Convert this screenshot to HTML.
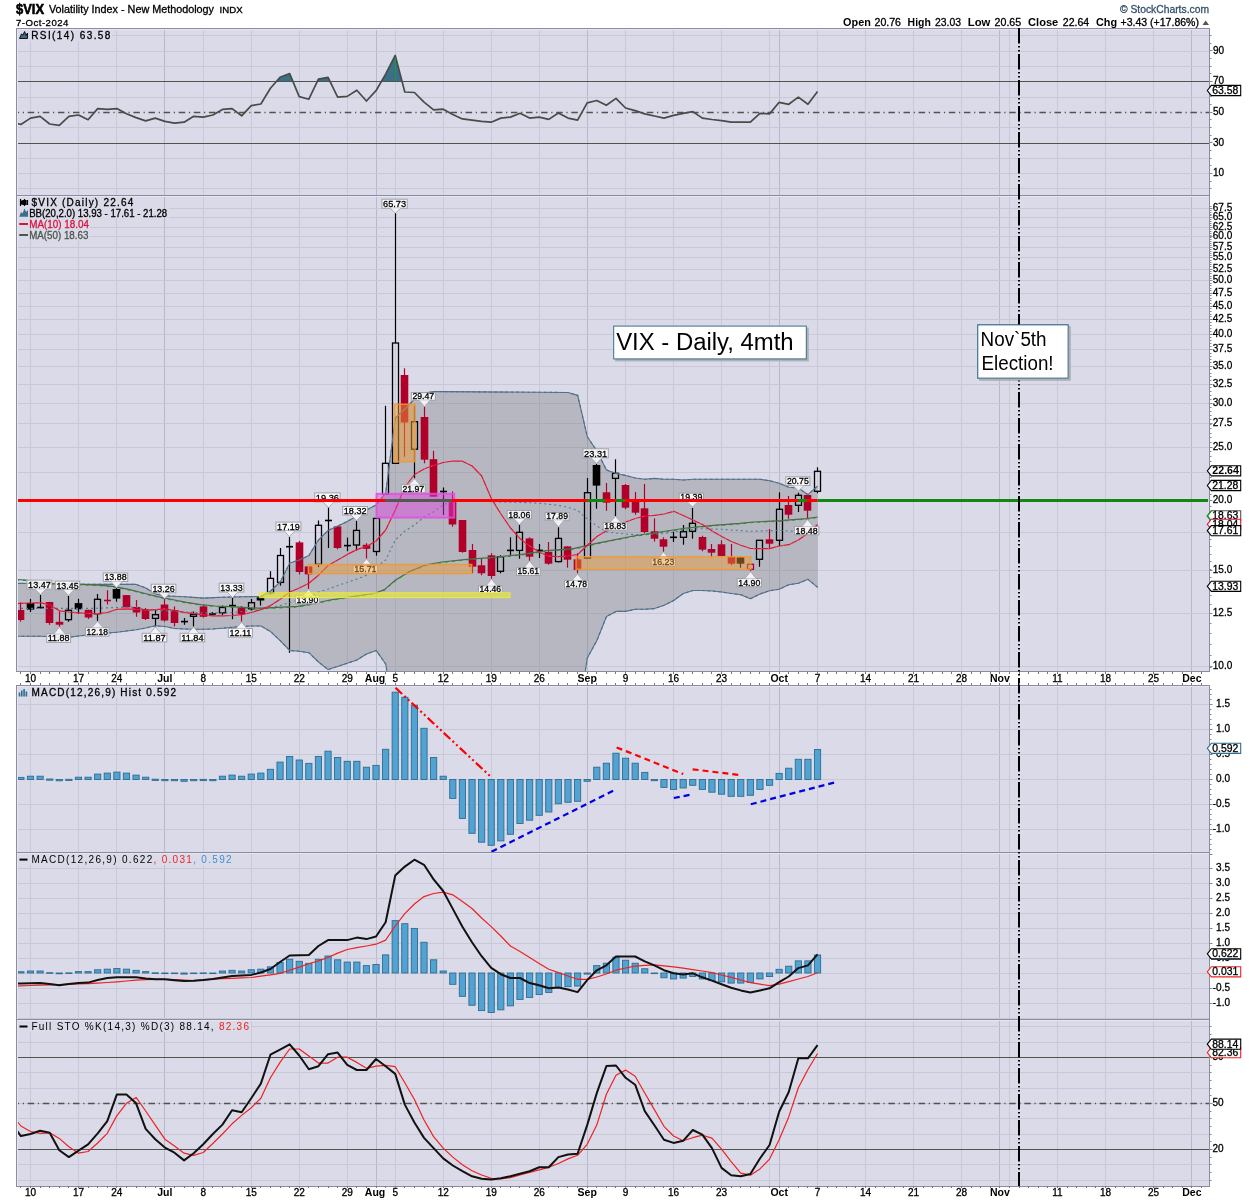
<!DOCTYPE html><html><head><meta charset="utf-8"><title>$VIX</title><style>html,body{margin:0;padding:0;background:#fff;width:1250px;height:1200px;overflow:hidden}svg{display:block;will-change:transform}text{font-family:"Liberation Sans", sans-serif}</style></head><body>
<svg width="1250" height="1200" viewBox="0 0 1250 1200">
<rect width="1250" height="1200" fill="#fff"/>
<defs><clipPath id="cp"><rect x="17" y="196" width="1191" height="475"/></clipPath><clipPath id="ch"><rect x="17" y="686" width="1191" height="166"/></clipPath><clipPath id="cm"><rect x="17" y="853" width="1191" height="166"/></clipPath><clipPath id="cs"><rect x="17" y="1020" width="1191" height="166"/></clipPath><clipPath id="cr"><rect x="17" y="29" width="1191" height="166"/></clipPath></defs>
<text x="16" y="14.2" font-size="14" fill="#000" font-weight="bold" textLength="28" lengthAdjust="spacingAndGlyphs" stroke="#000" stroke-width="0.6">$VIX</text>
<text x="49" y="13" font-size="10.5" fill="#000" textLength="165" lengthAdjust="spacingAndGlyphs" stroke="#000" stroke-width="0.3">Volatility Index - New Methodology</text>
<text x="219.6" y="13" font-size="8.5" fill="#000" textLength="23" lengthAdjust="spacingAndGlyphs" stroke="#000" stroke-width="0.3">INDX</text>
<text x="16" y="26" font-size="9.6" fill="#000" textLength="52.4" lengthAdjust="spacing" stroke="#000" stroke-width="0.3">7-Oct-2024</text>
<text x="1120" y="13.1" font-size="10.5" fill="#34506a" textLength="89" lengthAdjust="spacingAndGlyphs" stroke="#34506a" stroke-width="0.3">© StockCharts.com</text>
<text x="843.1" y="26" font-size="10.5" fill="#000" font-weight="bold" textLength="27.7" lengthAdjust="spacingAndGlyphs">Open</text>
<text x="874.5" y="26" font-size="10" fill="#000" textLength="26.5" lengthAdjust="spacingAndGlyphs" stroke="#000" stroke-width="0.3">20.76</text>
<text x="907.6" y="26" font-size="10.5" fill="#000" font-weight="bold" textLength="23.2" lengthAdjust="spacingAndGlyphs">High</text>
<text x="935" y="26" font-size="10" fill="#000" textLength="26" lengthAdjust="spacingAndGlyphs" stroke="#000" stroke-width="0.3">23.03</text>
<text x="967.8" y="26" font-size="10.5" fill="#000" font-weight="bold" textLength="22.6" lengthAdjust="spacingAndGlyphs">Low</text>
<text x="994.6" y="26" font-size="10" fill="#000" textLength="26.6" lengthAdjust="spacingAndGlyphs" stroke="#000" stroke-width="0.3">20.65</text>
<text x="1028" y="26" font-size="10.5" fill="#000" font-weight="bold" textLength="30.3" lengthAdjust="spacingAndGlyphs">Close</text>
<text x="1062.8" y="26" font-size="10" fill="#000" textLength="26.4" lengthAdjust="spacingAndGlyphs" stroke="#000" stroke-width="0.3">22.64</text>
<text x="1096" y="26" font-size="10.5" fill="#000" font-weight="bold" textLength="21.1" lengthAdjust="spacingAndGlyphs">Chg</text>
<text x="1120.5" y="26" font-size="10" fill="#000" textLength="78.5" lengthAdjust="spacingAndGlyphs" stroke="#000" stroke-width="0.3">+3.43 (+17.86%)</text>
<path d="M1202.5,25 L1205.7,20.5 L1209,25 Z" fill="#555"/>
<rect x="16" y="28" width="1193" height="167" fill="#dadae8"/>
<line x1="30.5" y1="28" x2="30.5" y2="195" stroke="#c9c9da" stroke-width="1"/>
<line x1="78.5" y1="28" x2="78.5" y2="195" stroke="#c9c9da" stroke-width="1"/>
<line x1="116.5" y1="28" x2="116.5" y2="195" stroke="#c9c9da" stroke-width="1"/>
<line x1="164.5" y1="28" x2="164.5" y2="195" stroke="#b9b9cb" stroke-width="1"/>
<line x1="203.5" y1="28" x2="203.5" y2="195" stroke="#c9c9da" stroke-width="1"/>
<line x1="251.5" y1="28" x2="251.5" y2="195" stroke="#c9c9da" stroke-width="1"/>
<line x1="299.5" y1="28" x2="299.5" y2="195" stroke="#c9c9da" stroke-width="1"/>
<line x1="347.5" y1="28" x2="347.5" y2="195" stroke="#c9c9da" stroke-width="1"/>
<line x1="376.5" y1="28" x2="376.5" y2="195" stroke="#b9b9cb" stroke-width="1"/>
<line x1="395.5" y1="28" x2="395.5" y2="195" stroke="#c9c9da" stroke-width="1"/>
<line x1="443.5" y1="28" x2="443.5" y2="195" stroke="#c9c9da" stroke-width="1"/>
<line x1="491.5" y1="28" x2="491.5" y2="195" stroke="#c9c9da" stroke-width="1"/>
<line x1="539.5" y1="28" x2="539.5" y2="195" stroke="#c9c9da" stroke-width="1"/>
<line x1="587.5" y1="28" x2="587.5" y2="195" stroke="#b9b9cb" stroke-width="1"/>
<line x1="625.5" y1="28" x2="625.5" y2="195" stroke="#c9c9da" stroke-width="1"/>
<line x1="673.5" y1="28" x2="673.5" y2="195" stroke="#c9c9da" stroke-width="1"/>
<line x1="721.5" y1="28" x2="721.5" y2="195" stroke="#c9c9da" stroke-width="1"/>
<line x1="769.5" y1="28" x2="769.5" y2="195" stroke="#c9c9da" stroke-width="1"/>
<line x1="779.5" y1="28" x2="779.5" y2="195" stroke="#b9b9cb" stroke-width="1"/>
<line x1="817.5" y1="28" x2="817.5" y2="195" stroke="#c9c9da" stroke-width="1"/>
<line x1="865.5" y1="28" x2="865.5" y2="195" stroke="#c9c9da" stroke-width="1"/>
<line x1="913.5" y1="28" x2="913.5" y2="195" stroke="#c9c9da" stroke-width="1"/>
<line x1="961.5" y1="28" x2="961.5" y2="195" stroke="#c9c9da" stroke-width="1"/>
<line x1="999.5" y1="28" x2="999.5" y2="195" stroke="#b9b9cb" stroke-width="1"/>
<line x1="1009.5" y1="28" x2="1009.5" y2="195" stroke="#c9c9da" stroke-width="1"/>
<line x1="1057.5" y1="28" x2="1057.5" y2="195" stroke="#c9c9da" stroke-width="1"/>
<line x1="1105.5" y1="28" x2="1105.5" y2="195" stroke="#c9c9da" stroke-width="1"/>
<line x1="1153.5" y1="28" x2="1153.5" y2="195" stroke="#c9c9da" stroke-width="1"/>
<line x1="1191.5" y1="28" x2="1191.5" y2="195" stroke="#b9b9cb" stroke-width="1"/>
<line x1="16" y1="35.5" x2="1209" y2="35.5" stroke="#c8c8d6" stroke-width="1"/>
<line x1="16" y1="51.5" x2="1209" y2="51.5" stroke="#c8c8d6" stroke-width="1"/>
<line x1="16" y1="66.5" x2="1209" y2="66.5" stroke="#c8c8d6" stroke-width="1"/>
<line x1="16" y1="97.5" x2="1209" y2="97.5" stroke="#c8c8d6" stroke-width="1"/>
<line x1="16" y1="127.5" x2="1209" y2="127.5" stroke="#c8c8d6" stroke-width="1"/>
<line x1="16" y1="158.5" x2="1209" y2="158.5" stroke="#c8c8d6" stroke-width="1"/>
<line x1="16" y1="173.5" x2="1209" y2="173.5" stroke="#c8c8d6" stroke-width="1"/>
<line x1="16" y1="188.5" x2="1209" y2="188.5" stroke="#c8c8d6" stroke-width="1"/>
<clipPath id="c70"><rect x="17" y="29" width="1191" height="52.56"/></clipPath>
<path d="M16.5,81.56 L16.5,123.2 L20.9,124.5 L30.5,118.1 L40.1,116.3 L49.7,124 L59.29,125.3 L68.89,116.3 L78.49,115 L88.09,119.7 L97.69,108.6 L107.28,109.4 L116.88,108.6 L126.48,113.8 L136.08,117.6 L145.68,120.9 L155.27,118.1 L164.87,121.4 L174.47,123.2 L184.07,122.2 L193.67,116.3 L203.26,117.1 L212.86,115 L222.46,109.4 L232.06,108.6 L241.66,115.8 L251.25,105.6 L260.85,104 L270.45,88.2 L280.05,77.2 L289.65,73.6 L299.24,96.6 L308.84,99.2 L318.44,79.2 L328.04,77.4 L337.64,97.1 L347.23,96.4 L356.83,90.2 L366.43,101 L376.03,90.7 L385.63,74.1 L395.22,55.4 L404.82,92 L414.42,92.5 L424.02,102.2 L433.62,109.9 L443.21,109.2 L452.81,114.5 L462.41,118.9 L472.01,120.2 L481.61,121.4 L491.2,122.2 L500.8,118.1 L510.4,117.1 L520,113.3 L529.6,118.1 L539.19,117.1 L548.79,119.4 L558.39,113 L567.99,118.1 L577.59,120.2 L587.18,102.8 L596.78,100.5 L606.38,105.3 L615.98,98.4 L625.58,108 L635.17,110.6 L644.77,113.9 L654.37,116 L663.97,118.1 L673.57,115.4 L683.16,113.3 L692.76,111.6 L702.36,118.1 L711.96,119.5 L721.56,120.6 L731.15,122.2 L740.75,122.2 L750.35,122.2 L759.95,113.3 L769.55,113.9 L779.14,102.3 L788.74,104.3 L798.34,97.1 L807.94,104.3 L817.54,91.4 L817.54,81.56 Z" fill="#3c6e88" clip-path="url(#c70)"/>
<line x1="16" y1="81.5" x2="1209" y2="81.5" stroke="#4e544e" stroke-width="1.2"/>
<line x1="16" y1="143.5" x2="1209" y2="143.5" stroke="#4e544e" stroke-width="1.2"/>
<line x1="17" y1="112.5" x2="1209" y2="112.5" stroke="#4e544e" stroke-width="1.5" stroke-dasharray="6.5,3.7,1.2,3.7" stroke-dashoffset="4.4"/>
<polyline points="16.5,123.2 20.9,124.5 30.5,118.1 40.1,116.3 49.7,124 59.29,125.3 68.89,116.3 78.49,115 88.09,119.7 97.69,108.6 107.28,109.4 116.88,108.6 126.48,113.8 136.08,117.6 145.68,120.9 155.27,118.1 164.87,121.4 174.47,123.2 184.07,122.2 193.67,116.3 203.26,117.1 212.86,115 222.46,109.4 232.06,108.6 241.66,115.8 251.25,105.6 260.85,104 270.45,88.2 280.05,77.2 289.65,73.6 299.24,96.6 308.84,99.2 318.44,79.2 328.04,77.4 337.64,97.1 347.23,96.4 356.83,90.2 366.43,101 376.03,90.7 385.63,74.1 395.22,55.4 404.82,92 414.42,92.5 424.02,102.2 433.62,109.9 443.21,109.2 452.81,114.5 462.41,118.9 472.01,120.2 481.61,121.4 491.2,122.2 500.8,118.1 510.4,117.1 520,113.3 529.6,118.1 539.19,117.1 548.79,119.4 558.39,113 567.99,118.1 577.59,120.2 587.18,102.8 596.78,100.5 606.38,105.3 615.98,98.4 625.58,108 635.17,110.6 644.77,113.9 654.37,116 663.97,118.1 673.57,115.4 683.16,113.3 692.76,111.6 702.36,118.1 711.96,119.5 721.56,120.6 731.15,122.2 740.75,122.2 750.35,122.2 759.95,113.3 769.55,113.9 779.14,102.3 788.74,104.3 798.34,97.1 807.94,104.3 817.54,91.4" fill="none" stroke="#464c48" stroke-width="1.7" stroke-linejoin="round" clip-path="url(#cr)"/>
<line x1="395.3" y1="58" x2="395.3" y2="81" stroke="#1a9a3a" stroke-width="1"/>
<path d="M17.5,29 V195 M17,29.5 H1209" stroke="#e6e6f2" stroke-width="1"/>
<rect x="16.5" y="28.5" width="1193" height="167" fill="none" stroke="#8c8ca0" stroke-width="1"/>
<rect x="16" y="195" width="1193" height="476" fill="#dadae8"/>
<line x1="30.5" y1="195" x2="30.5" y2="671" stroke="#c9c9da" stroke-width="1"/>
<line x1="78.5" y1="195" x2="78.5" y2="671" stroke="#c9c9da" stroke-width="1"/>
<line x1="116.5" y1="195" x2="116.5" y2="671" stroke="#c9c9da" stroke-width="1"/>
<line x1="164.5" y1="195" x2="164.5" y2="671" stroke="#b9b9cb" stroke-width="1"/>
<line x1="203.5" y1="195" x2="203.5" y2="671" stroke="#c9c9da" stroke-width="1"/>
<line x1="251.5" y1="195" x2="251.5" y2="671" stroke="#c9c9da" stroke-width="1"/>
<line x1="299.5" y1="195" x2="299.5" y2="671" stroke="#c9c9da" stroke-width="1"/>
<line x1="347.5" y1="195" x2="347.5" y2="671" stroke="#c9c9da" stroke-width="1"/>
<line x1="376.5" y1="195" x2="376.5" y2="671" stroke="#b9b9cb" stroke-width="1"/>
<line x1="395.5" y1="195" x2="395.5" y2="671" stroke="#c9c9da" stroke-width="1"/>
<line x1="443.5" y1="195" x2="443.5" y2="671" stroke="#c9c9da" stroke-width="1"/>
<line x1="491.5" y1="195" x2="491.5" y2="671" stroke="#c9c9da" stroke-width="1"/>
<line x1="539.5" y1="195" x2="539.5" y2="671" stroke="#c9c9da" stroke-width="1"/>
<line x1="587.5" y1="195" x2="587.5" y2="671" stroke="#b9b9cb" stroke-width="1"/>
<line x1="625.5" y1="195" x2="625.5" y2="671" stroke="#c9c9da" stroke-width="1"/>
<line x1="673.5" y1="195" x2="673.5" y2="671" stroke="#c9c9da" stroke-width="1"/>
<line x1="721.5" y1="195" x2="721.5" y2="671" stroke="#c9c9da" stroke-width="1"/>
<line x1="769.5" y1="195" x2="769.5" y2="671" stroke="#c9c9da" stroke-width="1"/>
<line x1="779.5" y1="195" x2="779.5" y2="671" stroke="#b9b9cb" stroke-width="1"/>
<line x1="817.5" y1="195" x2="817.5" y2="671" stroke="#c9c9da" stroke-width="1"/>
<line x1="865.5" y1="195" x2="865.5" y2="671" stroke="#c9c9da" stroke-width="1"/>
<line x1="913.5" y1="195" x2="913.5" y2="671" stroke="#c9c9da" stroke-width="1"/>
<line x1="961.5" y1="195" x2="961.5" y2="671" stroke="#c9c9da" stroke-width="1"/>
<line x1="999.5" y1="195" x2="999.5" y2="671" stroke="#b9b9cb" stroke-width="1"/>
<line x1="1009.5" y1="195" x2="1009.5" y2="671" stroke="#c9c9da" stroke-width="1"/>
<line x1="1057.5" y1="195" x2="1057.5" y2="671" stroke="#c9c9da" stroke-width="1"/>
<line x1="1105.5" y1="195" x2="1105.5" y2="671" stroke="#c9c9da" stroke-width="1"/>
<line x1="1153.5" y1="195" x2="1153.5" y2="671" stroke="#c9c9da" stroke-width="1"/>
<line x1="1191.5" y1="195" x2="1191.5" y2="671" stroke="#b9b9cb" stroke-width="1"/>
<line x1="16" y1="208.5" x2="1209" y2="208.5" stroke="#c8c8d6" stroke-width="1"/>
<line x1="16" y1="217.5" x2="1209" y2="217.5" stroke="#c8c8d6" stroke-width="1"/>
<line x1="16" y1="227.5" x2="1209" y2="227.5" stroke="#c8c8d6" stroke-width="1"/>
<line x1="16" y1="236.5" x2="1209" y2="236.5" stroke="#c8c8d6" stroke-width="1"/>
<line x1="16" y1="247.5" x2="1209" y2="247.5" stroke="#c8c8d6" stroke-width="1"/>
<line x1="16" y1="257.5" x2="1209" y2="257.5" stroke="#c8c8d6" stroke-width="1"/>
<line x1="16" y1="269.5" x2="1209" y2="269.5" stroke="#c8c8d6" stroke-width="1"/>
<line x1="16" y1="280.5" x2="1209" y2="280.5" stroke="#c8c8d6" stroke-width="1"/>
<line x1="16" y1="293.5" x2="1209" y2="293.5" stroke="#c8c8d6" stroke-width="1"/>
<line x1="16" y1="306.5" x2="1209" y2="306.5" stroke="#c8c8d6" stroke-width="1"/>
<line x1="16" y1="319.5" x2="1209" y2="319.5" stroke="#c8c8d6" stroke-width="1"/>
<line x1="16" y1="334.5" x2="1209" y2="334.5" stroke="#c8c8d6" stroke-width="1"/>
<line x1="16" y1="349.5" x2="1209" y2="349.5" stroke="#c8c8d6" stroke-width="1"/>
<line x1="16" y1="366.5" x2="1209" y2="366.5" stroke="#c8c8d6" stroke-width="1"/>
<line x1="16" y1="384.5" x2="1209" y2="384.5" stroke="#c8c8d6" stroke-width="1"/>
<line x1="16" y1="403.5" x2="1209" y2="403.5" stroke="#c8c8d6" stroke-width="1"/>
<line x1="16" y1="423.5" x2="1209" y2="423.5" stroke="#c8c8d6" stroke-width="1"/>
<line x1="16" y1="447.5" x2="1209" y2="447.5" stroke="#c8c8d6" stroke-width="1"/>
<line x1="16" y1="472.5" x2="1209" y2="472.5" stroke="#c8c8d6" stroke-width="1"/>
<line x1="16" y1="500.5" x2="1209" y2="500.5" stroke="#c8c8d6" stroke-width="1"/>
<line x1="16" y1="532.5" x2="1209" y2="532.5" stroke="#c8c8d6" stroke-width="1"/>
<line x1="16" y1="570.5" x2="1209" y2="570.5" stroke="#c8c8d6" stroke-width="1"/>
<line x1="16" y1="613.5" x2="1209" y2="613.5" stroke="#c8c8d6" stroke-width="1"/>
<line x1="16" y1="666.5" x2="1209" y2="666.5" stroke="#c8c8d6" stroke-width="1"/>
<g clip-path="url(#cp)">
<path d="M16,583.4 L21,583.4 L30.6,583.5 L40.2,583.6 L49.8,583.7 L59.4,583.8 L69,584 L78.6,584.2 L88.2,584.3 L97.8,584.4 L107.4,584.4 L117,584.4 L126.6,584.4 L136.2,584.4 L145.8,588 L155.4,594 L165,595.9 L174.6,596.3 L184.2,596.8 L193.8,597.4 L203.4,598.1 L213,597.6 L222.6,597.2 L232.2,597 L241.8,596.8 L251.4,596.6 L261,596.5 L270.6,591 L280.2,582 L289.8,563 L299.3,560 L308.9,555.5 L318.5,540 L328.1,530.5 L337.7,526 L347.3,521.5 L356.9,516 L366.5,510 L376.1,505 L385.7,493 L395.3,418 L404.9,409 L414.5,399 L424.1,393.3 L433.7,391.5 L443.3,391.6 L568.1,392.5 L577.7,395.4 L587.3,436.7 L596.9,451 L606.5,470 L616.1,473.5 L625.7,475.5 L635.3,478 L644.9,479.3 L654.5,478.4 L664.1,479.3 L673.7,479.3 L683.3,480 L692.9,479.3 L760,479.3 L769.6,480.7 L779.2,483.3 L788.8,487.3 L798.4,488 L808,494.7 L817.6,486 L817.6,587.3 L808,579.3 L798.4,583.3 L788.8,584.7 L779.2,589.3 L769.6,590.7 L760,594 L750.4,598.7 L740.9,594.7 L731.3,593.5 L721.7,592 L712.1,591 L702.5,590.5 L692.9,590.5 L683.3,593.5 L673.7,600.5 L664.1,605.3 L654.5,608.6 L644.9,609.2 L635.3,609.2 L625.7,611.4 L616.1,611.4 L606.5,616.5 L596.9,640.5 L587.3,658 L577.7,720 L395.3,720 L385.7,664 L376.1,650.4 L366.5,654 L356.9,660 L347.3,663.2 L337.7,666.4 L328.1,669.6 L318.5,662 L308.9,652.7 L299.3,651.3 L289.8,650.5 L280.2,640.6 L270.6,631.6 L261,626 L251.4,626 L241.8,626.6 L232.2,627.3 L222.6,628.2 L213,629 L203.4,629.2 L193.8,629.3 L184.2,629 L174.6,628.5 L165,626.5 L155.4,625.8 L145.8,628 L136.2,629.8 L126.6,631 L117,632.2 L107.4,633 L97.8,634 L88.2,635 L78.6,636 L69,637.2 L59.4,637.4 L49.8,636.8 L40.2,636.2 L30.6,636.2 L21,636.2 L16,636.2 Z" fill="#636366" fill-opacity="0.29"/>
<line x1="20.5" y1="602.4" x2="20.5" y2="621.6" stroke="#b0002a" stroke-width="1.2"/>
<rect x="16.7" y="610" width="7.6" height="10" fill="#b0002a"/>
<line x1="30.5" y1="598.9" x2="30.5" y2="612" stroke="#000" stroke-width="1.2"/>
<rect x="26.7" y="603" width="7.6" height="6.6" fill="#000"/>
<line x1="40.5" y1="595" x2="40.5" y2="608.4" stroke="#000" stroke-width="1.2"/>
<line x1="37" y1="607.5" x2="44" y2="607.5" stroke="#000" stroke-width="1.6"/>
<line x1="49.5" y1="601.7" x2="49.5" y2="624.8" stroke="#b0002a" stroke-width="1.2"/>
<rect x="45.7" y="602" width="7.6" height="21" fill="#b0002a"/>
<line x1="59.5" y1="610.3" x2="59.5" y2="626.6" stroke="#b0002a" stroke-width="1.2"/>
<rect x="55.7" y="621.8" width="7.6" height="2.9" fill="#b0002a"/>
<line x1="68.5" y1="595.9" x2="68.5" y2="610.3" stroke="#000" stroke-width="1.2"/>
<line x1="68.5" y1="619.7" x2="68.5" y2="621.8" stroke="#000" stroke-width="1.2"/>
<rect x="65.5" y="610.3" width="6" height="9.4" fill="none" stroke="#000" stroke-width="1.3"/>
<line x1="78.5" y1="598.8" x2="78.5" y2="613.7" stroke="#000" stroke-width="1.2"/>
<rect x="74.7" y="603.1" width="7.6" height="6.2" fill="#000"/>
<line x1="88.5" y1="609.8" x2="88.5" y2="619" stroke="#b0002a" stroke-width="1.2"/>
<rect x="84.7" y="609.8" width="7.6" height="7.7" fill="#b0002a"/>
<line x1="97.5" y1="594" x2="97.5" y2="599.3" stroke="#000" stroke-width="1.2"/>
<line x1="97.5" y1="613.7" x2="97.5" y2="620.9" stroke="#000" stroke-width="1.2"/>
<rect x="94.5" y="599.3" width="6" height="14.4" fill="none" stroke="#000" stroke-width="1.3"/>
<line x1="107.5" y1="590.2" x2="107.5" y2="604.5" stroke="#b0002a" stroke-width="1.2"/>
<line x1="104" y1="600.5" x2="111" y2="600.5" stroke="#b0002a" stroke-width="1.6"/>
<line x1="116.5" y1="588.2" x2="116.5" y2="601.7" stroke="#000" stroke-width="1.2"/>
<rect x="112.7" y="589" width="7.6" height="9.6" fill="#000"/>
<line x1="126.5" y1="595.1" x2="126.5" y2="607.4" stroke="#b0002a" stroke-width="1.2"/>
<rect x="122.7" y="595.1" width="7.6" height="12.3" fill="#b0002a"/>
<line x1="136.5" y1="600" x2="136.5" y2="616.8" stroke="#b0002a" stroke-width="1.2"/>
<rect x="132.7" y="607" width="7.6" height="5.5" fill="#b0002a"/>
<line x1="145.5" y1="608" x2="145.5" y2="620" stroke="#b0002a" stroke-width="1.2"/>
<rect x="141.7" y="609" width="7.6" height="10" fill="#b0002a"/>
<line x1="155.5" y1="609" x2="155.5" y2="614.7" stroke="#000" stroke-width="1.2"/>
<line x1="155.5" y1="618.4" x2="155.5" y2="626.4" stroke="#000" stroke-width="1.2"/>
<rect x="152.5" y="614.7" width="6" height="3.7" fill="none" stroke="#000" stroke-width="1.3"/>
<line x1="164.5" y1="599" x2="164.5" y2="621.6" stroke="#b0002a" stroke-width="1.2"/>
<rect x="160.7" y="604.5" width="7.6" height="16" fill="#b0002a"/>
<line x1="174.5" y1="606.4" x2="174.5" y2="626.4" stroke="#b0002a" stroke-width="1.2"/>
<rect x="170.7" y="610" width="7.6" height="13" fill="#b0002a"/>
<line x1="184.5" y1="618" x2="184.5" y2="624.8" stroke="#000" stroke-width="1.2"/>
<line x1="181" y1="621.6" x2="188" y2="621.6" stroke="#000" stroke-width="1.6"/>
<line x1="193.5" y1="611.5" x2="193.5" y2="614.4" stroke="#000" stroke-width="1.2"/>
<line x1="193.5" y1="616.3" x2="193.5" y2="626.4" stroke="#000" stroke-width="1.2"/>
<rect x="190.5" y="614.4" width="6" height="1.9" fill="none" stroke="#000" stroke-width="1.3"/>
<line x1="203.5" y1="605.6" x2="203.5" y2="617.6" stroke="#b0002a" stroke-width="1.2"/>
<rect x="199.7" y="606.4" width="7.6" height="10.4" fill="#b0002a"/>
<line x1="212.5" y1="612" x2="212.5" y2="615" stroke="#000" stroke-width="1.2"/>
<line x1="209" y1="614" x2="216" y2="614" stroke="#000" stroke-width="1.6"/>
<line x1="222.5" y1="605.6" x2="222.5" y2="607.5" stroke="#000" stroke-width="1.2"/>
<line x1="222.5" y1="612.8" x2="222.5" y2="615.2" stroke="#000" stroke-width="1.2"/>
<rect x="219.5" y="607.5" width="6" height="5.3" fill="none" stroke="#000" stroke-width="1.3"/>
<line x1="232.5" y1="598" x2="232.5" y2="619.2" stroke="#000" stroke-width="1.2"/>
<line x1="229" y1="605.6" x2="236" y2="605.6" stroke="#000" stroke-width="1.6"/>
<line x1="241.5" y1="606" x2="241.5" y2="621.6" stroke="#b0002a" stroke-width="1.2"/>
<rect x="237.7" y="607" width="7.6" height="7.4" fill="#b0002a"/>
<line x1="251.5" y1="599" x2="251.5" y2="602.7" stroke="#000" stroke-width="1.2"/>
<line x1="251.5" y1="608.8" x2="251.5" y2="610.4" stroke="#000" stroke-width="1.2"/>
<rect x="248.5" y="602.7" width="6" height="6.1" fill="none" stroke="#000" stroke-width="1.3"/>
<line x1="260.5" y1="597.3" x2="260.5" y2="605.6" stroke="#000" stroke-width="1.2"/>
<rect x="256.7" y="597.3" width="7.6" height="3.2" fill="#000"/>
<line x1="270.5" y1="571.2" x2="270.5" y2="578.4" stroke="#000" stroke-width="1.2"/>
<line x1="270.5" y1="592.8" x2="270.5" y2="594.4" stroke="#000" stroke-width="1.2"/>
<rect x="267.5" y="578.4" width="6" height="14.4" fill="none" stroke="#000" stroke-width="1.3"/>
<line x1="280.5" y1="548" x2="280.5" y2="555.5" stroke="#000" stroke-width="1.2"/>
<line x1="280.5" y1="582.4" x2="280.5" y2="585.6" stroke="#000" stroke-width="1.2"/>
<rect x="277.5" y="555.5" width="6" height="26.9" fill="none" stroke="#000" stroke-width="1.3"/>
<line x1="289.5" y1="537" x2="289.5" y2="652.8" stroke="#000" stroke-width="1.2"/>
<line x1="286" y1="546.7" x2="293" y2="546.7" stroke="#000" stroke-width="1.6"/>
<line x1="299.5" y1="541" x2="299.5" y2="574.4" stroke="#b0002a" stroke-width="1.2"/>
<rect x="295.7" y="542.4" width="7.6" height="29.6" fill="#b0002a"/>
<line x1="308.5" y1="566.4" x2="308.5" y2="588.8" stroke="#b0002a" stroke-width="1.2"/>
<rect x="304.7" y="566.4" width="7.6" height="8" fill="#b0002a"/>
<line x1="318.5" y1="520.5" x2="318.5" y2="525.3" stroke="#000" stroke-width="1.2"/>
<line x1="318.5" y1="564.3" x2="318.5" y2="567.2" stroke="#000" stroke-width="1.2"/>
<rect x="315.5" y="525.3" width="6" height="39" fill="none" stroke="#000" stroke-width="1.3"/>
<line x1="328.5" y1="506.4" x2="328.5" y2="548" stroke="#000" stroke-width="1.2"/>
<line x1="325" y1="520.5" x2="332" y2="520.5" stroke="#000" stroke-width="1.6"/>
<line x1="337.5" y1="526" x2="337.5" y2="549.3" stroke="#b0002a" stroke-width="1.2"/>
<rect x="333.7" y="526.4" width="7.6" height="21.6" fill="#b0002a"/>
<line x1="347.5" y1="537.6" x2="347.5" y2="551.2" stroke="#000" stroke-width="1.2"/>
<line x1="344" y1="545.6" x2="351" y2="545.6" stroke="#000" stroke-width="1.6"/>
<line x1="356.5" y1="520.8" x2="356.5" y2="530.4" stroke="#000" stroke-width="1.2"/>
<line x1="356.5" y1="545" x2="356.5" y2="550.4" stroke="#000" stroke-width="1.2"/>
<rect x="353.5" y="530.4" width="6" height="14.6" fill="none" stroke="#000" stroke-width="1.3"/>
<line x1="366.5" y1="543.2" x2="366.5" y2="558.4" stroke="#b0002a" stroke-width="1.2"/>
<rect x="362.7" y="544.8" width="7.6" height="4" fill="#b0002a"/>
<line x1="376.5" y1="551.5" x2="376.5" y2="555.7" stroke="#000" stroke-width="1.2"/>
<rect x="373.5" y="518.4" width="6" height="33.1" fill="none" stroke="#000" stroke-width="1.3"/>
<line x1="385.5" y1="405.8" x2="385.5" y2="463.3" stroke="#000" stroke-width="1.2"/>
<rect x="382.5" y="463.3" width="6" height="30.9" fill="none" stroke="#000" stroke-width="1.3"/>
<line x1="395.5" y1="213" x2="395.5" y2="343" stroke="#000" stroke-width="1.2"/>
<rect x="392.5" y="343" width="6" height="120.3" fill="none" stroke="#000" stroke-width="1.3"/>
<line x1="404.5" y1="368.3" x2="404.5" y2="456.7" stroke="#b0002a" stroke-width="1.2"/>
<rect x="400.7" y="375" width="7.6" height="47.5" fill="#b0002a"/>
<line x1="414.5" y1="405.8" x2="414.5" y2="421.7" stroke="#000" stroke-width="1.2"/>
<line x1="414.5" y1="449.2" x2="414.5" y2="478.3" stroke="#000" stroke-width="1.2"/>
<rect x="411.5" y="421.7" width="6" height="27.5" fill="none" stroke="#000" stroke-width="1.3"/>
<line x1="424.5" y1="406.7" x2="424.5" y2="463.3" stroke="#b0002a" stroke-width="1.2"/>
<rect x="420.7" y="417" width="7.6" height="42.7" fill="#b0002a"/>
<line x1="433.5" y1="450.8" x2="433.5" y2="496.7" stroke="#b0002a" stroke-width="1.2"/>
<rect x="429.7" y="459.2" width="7.6" height="37.5" fill="#b0002a"/>
<line x1="443.5" y1="487.5" x2="443.5" y2="515" stroke="#000" stroke-width="1.2"/>
<line x1="440" y1="491.5" x2="447" y2="491.5" stroke="#000" stroke-width="1.6"/>
<line x1="452.5" y1="491.5" x2="452.5" y2="526.7" stroke="#b0002a" stroke-width="1.2"/>
<rect x="448.7" y="501.7" width="7.6" height="22.8" fill="#b0002a"/>
<line x1="462.5" y1="520" x2="462.5" y2="552.7" stroke="#b0002a" stroke-width="1.2"/>
<rect x="458.7" y="520" width="7.6" height="32" fill="#b0002a"/>
<line x1="472.5" y1="544" x2="472.5" y2="573.3" stroke="#b0002a" stroke-width="1.2"/>
<rect x="468.7" y="550" width="7.6" height="16.7" fill="#b0002a"/>
<line x1="481.5" y1="558.7" x2="481.5" y2="575.3" stroke="#b0002a" stroke-width="1.2"/>
<rect x="477.7" y="565.3" width="7.6" height="8" fill="#b0002a"/>
<line x1="491.5" y1="553.3" x2="491.5" y2="578.7" stroke="#b0002a" stroke-width="1.2"/>
<rect x="487.7" y="555.3" width="7.6" height="20.7" fill="#b0002a"/>
<line x1="500.5" y1="555.3" x2="500.5" y2="556.7" stroke="#000" stroke-width="1.2"/>
<line x1="500.5" y1="571.3" x2="500.5" y2="573.3" stroke="#000" stroke-width="1.2"/>
<rect x="497.5" y="556.7" width="6" height="14.6" fill="none" stroke="#000" stroke-width="1.3"/>
<line x1="510.5" y1="537.3" x2="510.5" y2="556" stroke="#000" stroke-width="1.2"/>
<line x1="507" y1="550.4" x2="514" y2="550.4" stroke="#000" stroke-width="1.6"/>
<line x1="519.5" y1="524.7" x2="519.5" y2="532.3" stroke="#000" stroke-width="1.2"/>
<line x1="519.5" y1="550.4" x2="519.5" y2="558.7" stroke="#000" stroke-width="1.2"/>
<rect x="516.5" y="532.3" width="6" height="18.1" fill="none" stroke="#000" stroke-width="1.3"/>
<line x1="529.5" y1="537.3" x2="529.5" y2="560.7" stroke="#b0002a" stroke-width="1.2"/>
<rect x="525.7" y="538.4" width="7.6" height="18.3" fill="#b0002a"/>
<line x1="539.5" y1="544" x2="539.5" y2="558" stroke="#000" stroke-width="1.2"/>
<line x1="536" y1="550.4" x2="543" y2="550.4" stroke="#000" stroke-width="1.6"/>
<line x1="548.5" y1="542" x2="548.5" y2="564.7" stroke="#b0002a" stroke-width="1.2"/>
<rect x="544.7" y="552" width="7.6" height="11.7" fill="#b0002a"/>
<line x1="558.5" y1="527.3" x2="558.5" y2="538.4" stroke="#000" stroke-width="1.2"/>
<line x1="558.5" y1="561.6" x2="558.5" y2="562.4" stroke="#000" stroke-width="1.2"/>
<rect x="555.5" y="538.4" width="6" height="23.2" fill="none" stroke="#000" stroke-width="1.3"/>
<line x1="567.5" y1="546.4" x2="567.5" y2="567.7" stroke="#b0002a" stroke-width="1.2"/>
<rect x="563.7" y="546.4" width="7.6" height="13.3" fill="#b0002a"/>
<line x1="577.5" y1="553.3" x2="577.5" y2="573.3" stroke="#b0002a" stroke-width="1.2"/>
<rect x="573.7" y="559.3" width="7.6" height="10.7" fill="#b0002a"/>
<line x1="587.5" y1="478" x2="587.5" y2="492.7" stroke="#000" stroke-width="1.2"/>
<rect x="584.5" y="492.7" width="6" height="65.3" fill="none" stroke="#000" stroke-width="1.3"/>
<line x1="596.5" y1="464" x2="596.5" y2="508.7" stroke="#000" stroke-width="1.2"/>
<rect x="592.7" y="465" width="7.6" height="20.6" fill="#000"/>
<line x1="606.5" y1="483" x2="606.5" y2="510.7" stroke="#b0002a" stroke-width="1.2"/>
<rect x="602.7" y="492.3" width="7.6" height="10.4" fill="#b0002a"/>
<line x1="615.5" y1="459.3" x2="615.5" y2="473.3" stroke="#000" stroke-width="1.2"/>
<line x1="615.5" y1="478.4" x2="615.5" y2="516" stroke="#000" stroke-width="1.2"/>
<rect x="612.5" y="473.3" width="6" height="5.1" fill="none" stroke="#000" stroke-width="1.3"/>
<line x1="625.5" y1="484" x2="625.5" y2="509.3" stroke="#b0002a" stroke-width="1.2"/>
<rect x="621.7" y="485" width="7.6" height="22.7" fill="#b0002a"/>
<line x1="635.5" y1="492" x2="635.5" y2="514.7" stroke="#b0002a" stroke-width="1.2"/>
<rect x="631.7" y="502" width="7.6" height="10.7" fill="#b0002a"/>
<line x1="644.5" y1="484" x2="644.5" y2="533.3" stroke="#b0002a" stroke-width="1.2"/>
<rect x="640.7" y="508.3" width="7.6" height="23.7" fill="#b0002a"/>
<line x1="654.5" y1="518.4" x2="654.5" y2="541.6" stroke="#b0002a" stroke-width="1.2"/>
<rect x="650.7" y="531.3" width="7.6" height="7.4" fill="#b0002a"/>
<line x1="663.5" y1="537.3" x2="663.5" y2="551.7" stroke="#b0002a" stroke-width="1.2"/>
<rect x="659.7" y="539.3" width="7.6" height="7.4" fill="#b0002a"/>
<line x1="673.5" y1="531.7" x2="673.5" y2="542" stroke="#000" stroke-width="1.2"/>
<line x1="670" y1="537.3" x2="677" y2="537.3" stroke="#000" stroke-width="1.6"/>
<line x1="683.5" y1="525" x2="683.5" y2="531.7" stroke="#000" stroke-width="1.2"/>
<line x1="683.5" y1="537.3" x2="683.5" y2="544.7" stroke="#000" stroke-width="1.2"/>
<rect x="680.5" y="531.7" width="6" height="5.6" fill="none" stroke="#000" stroke-width="1.3"/>
<line x1="692.5" y1="508" x2="692.5" y2="523.3" stroke="#000" stroke-width="1.2"/>
<line x1="692.5" y1="531.3" x2="692.5" y2="538.7" stroke="#000" stroke-width="1.2"/>
<rect x="689.5" y="523.3" width="6" height="8" fill="none" stroke="#000" stroke-width="1.3"/>
<line x1="702.5" y1="535.7" x2="702.5" y2="551.3" stroke="#b0002a" stroke-width="1.2"/>
<rect x="698.7" y="537" width="7.6" height="12.6" fill="#b0002a"/>
<line x1="711.5" y1="544" x2="711.5" y2="557.3" stroke="#b0002a" stroke-width="1.2"/>
<rect x="707.7" y="549" width="7.6" height="3.7" fill="#b0002a"/>
<line x1="721.5" y1="540.3" x2="721.5" y2="556.7" stroke="#b0002a" stroke-width="1.2"/>
<rect x="717.7" y="544.3" width="7.6" height="11.7" fill="#b0002a"/>
<line x1="731.5" y1="544" x2="731.5" y2="565.3" stroke="#b0002a" stroke-width="1.2"/>
<rect x="727.7" y="556.7" width="7.6" height="7" fill="#b0002a"/>
<line x1="740.5" y1="557.3" x2="740.5" y2="567.7" stroke="#000" stroke-width="1.2"/>
<rect x="736.7" y="557.3" width="7.6" height="6.4" fill="#000"/>
<line x1="750.5" y1="569.3" x2="750.5" y2="571.3" stroke="#b0002a" stroke-width="1.2"/>
<rect x="747.5" y="564.3" width="6" height="5" fill="none" stroke="#b0002a" stroke-width="1.3"/>
<line x1="759.5" y1="559.3" x2="759.5" y2="566.7" stroke="#000" stroke-width="1.2"/>
<rect x="756.5" y="540.3" width="6" height="19" fill="none" stroke="#000" stroke-width="1.3"/>
<line x1="769.5" y1="529" x2="769.5" y2="548" stroke="#b0002a" stroke-width="1.2"/>
<rect x="765.7" y="539.3" width="7.6" height="4.4" fill="#b0002a"/>
<line x1="779.5" y1="492.3" x2="779.5" y2="509.3" stroke="#000" stroke-width="1.2"/>
<line x1="779.5" y1="540.3" x2="779.5" y2="546" stroke="#000" stroke-width="1.2"/>
<rect x="776.5" y="509.3" width="6" height="31" fill="none" stroke="#000" stroke-width="1.3"/>
<line x1="788.5" y1="496" x2="788.5" y2="518.7" stroke="#b0002a" stroke-width="1.2"/>
<rect x="784.7" y="505" width="7.6" height="9.7" fill="#b0002a"/>
<line x1="798.5" y1="492.7" x2="798.5" y2="495.3" stroke="#000" stroke-width="1.2"/>
<line x1="798.5" y1="505.3" x2="798.5" y2="512" stroke="#000" stroke-width="1.2"/>
<rect x="795.5" y="495.3" width="6" height="10" fill="none" stroke="#000" stroke-width="1.3"/>
<line x1="807.5" y1="495" x2="807.5" y2="518.7" stroke="#b0002a" stroke-width="1.2"/>
<rect x="803.7" y="495" width="7.6" height="15.7" fill="#b0002a"/>
<line x1="817.5" y1="467.3" x2="817.5" y2="471.3" stroke="#000" stroke-width="1.2"/>
<line x1="817.5" y1="491.3" x2="817.5" y2="493.3" stroke="#000" stroke-width="1.2"/>
<rect x="814.5" y="471.3" width="6" height="20" fill="none" stroke="#000" stroke-width="1.3"/>
<polyline points="16,583.4 21,583.4 30.6,583.5 40.2,583.6 49.8,583.7 59.4,583.8 69,584 78.6,584.2 88.2,584.3 97.8,584.4 107.4,584.4 117,584.4 126.6,584.4 136.2,584.4 145.8,588 155.4,594 165,595.9 174.6,596.3 184.2,596.8 193.8,597.4 203.4,598.1 213,597.6 222.6,597.2 232.2,597 241.8,596.8 251.4,596.6 261,596.5 270.6,591 280.2,582 289.8,563 299.3,560 308.9,555.5 318.5,540 328.1,530.5 337.7,526 347.3,521.5 356.9,516 366.5,510 376.1,505 385.7,493 395.3,418 404.9,409 414.5,399 424.1,393.3 433.7,391.5 443.3,391.6 568.1,392.5 577.7,395.4 587.3,436.7 596.9,451 606.5,470 616.1,473.5 625.7,475.5 635.3,478 644.9,479.3 654.5,478.4 664.1,479.3 673.7,479.3 683.3,480 692.9,479.3 760,479.3 769.6,480.7 779.2,483.3 788.8,487.3 798.4,488 808,494.7 817.6,486" fill="none" stroke="#6a6c74" stroke-width="1.1" stroke-linejoin="round"/>
<polyline points="16,583.4 21,583.4 30.6,583.5 40.2,583.6 49.8,583.7 59.4,583.8 69,584 78.6,584.2 88.2,584.3 97.8,584.4 107.4,584.4 117,584.4 126.6,584.4 136.2,584.4 145.8,588 155.4,594 165,595.9 174.6,596.3 184.2,596.8 193.8,597.4 203.4,598.1 213,597.6 222.6,597.2 232.2,597 241.8,596.8 251.4,596.6 261,596.5 270.6,591 280.2,582 289.8,563 299.3,560 308.9,555.5 318.5,540 328.1,530.5 337.7,526 347.3,521.5 356.9,516 366.5,510 376.1,505 385.7,493 395.3,418 404.9,409 414.5,399 424.1,393.3 433.7,391.5 443.3,391.6 568.1,392.5 577.7,395.4 587.3,436.7 596.9,451 606.5,470 616.1,473.5 625.7,475.5 635.3,478 644.9,479.3 654.5,478.4 664.1,479.3 673.7,479.3 683.3,480 692.9,479.3 760,479.3 769.6,480.7 779.2,483.3 788.8,487.3 798.4,488 808,494.7 817.6,486" fill="none" stroke="#2f7aa8" stroke-width="1.1" stroke-linejoin="round" stroke-dasharray="2.5,3"/>
<polyline points="16,636.2 21,636.2 30.6,636.2 40.2,636.2 49.8,636.8 59.4,637.4 69,637.2 78.6,636 88.2,635 97.8,634 107.4,633 117,632.2 126.6,631 136.2,629.8 145.8,628 155.4,625.8 165,626.5 174.6,628.5 184.2,629 193.8,629.3 203.4,629.2 213,629 222.6,628.2 232.2,627.3 241.8,626.6 251.4,626 261,626 270.6,631.6 280.2,640.6 289.8,650.5 299.3,651.3 308.9,652.7 318.5,662 328.1,669.6 337.7,666.4 347.3,663.2 356.9,660 366.5,654 376.1,650.4 385.7,664 395.3,720 577.7,720 587.3,658 596.9,640.5 606.5,616.5 616.1,611.4 625.7,611.4 635.3,609.2 644.9,609.2 654.5,608.6 664.1,605.3 673.7,600.5 683.3,593.5 692.9,590.5 702.5,590.5 712.1,591 721.7,592 731.3,593.5 740.9,594.7 750.4,598.7 760,594 769.6,590.7 779.2,589.3 788.8,584.7 798.4,583.3 808,579.3 817.6,587.3" fill="none" stroke="#6a6c74" stroke-width="1.1" stroke-linejoin="round"/>
<polyline points="16,636.2 21,636.2 30.6,636.2 40.2,636.2 49.8,636.8 59.4,637.4 69,637.2 78.6,636 88.2,635 97.8,634 107.4,633 117,632.2 126.6,631 136.2,629.8 145.8,628 155.4,625.8 165,626.5 174.6,628.5 184.2,629 193.8,629.3 203.4,629.2 213,629 222.6,628.2 232.2,627.3 241.8,626.6 251.4,626 261,626 270.6,631.6 280.2,640.6 289.8,650.5 299.3,651.3 308.9,652.7 318.5,662 328.1,669.6 337.7,666.4 347.3,663.2 356.9,660 366.5,654 376.1,650.4 385.7,664 395.3,720 577.7,720 587.3,658 596.9,640.5 606.5,616.5 616.1,611.4 625.7,611.4 635.3,609.2 644.9,609.2 654.5,608.6 664.1,605.3 673.7,600.5 683.3,593.5 692.9,590.5 702.5,590.5 712.1,591 721.7,592 731.3,593.5 740.9,594.7 750.4,598.7 760,594 769.6,590.7 779.2,589.3 788.8,584.7 798.4,583.3 808,579.3 817.6,587.3" fill="none" stroke="#2f7aa8" stroke-width="1.1" stroke-linejoin="round" stroke-dasharray="2.5,3"/>
<polyline points="16,608.4 30.6,608.4 49.8,608.4 69,608.4 88.2,608.4 97.8,608.2 117,607.5 136.2,607 145.8,609.6 165,610.8 184.2,612 203.4,612.9 222.6,612.9 232.2,612.5 241.8,611.5 251.4,610.5 261,609.5 270.6,608 280.2,605.5 289.8,602.4 299.3,599.5 308.9,596.5 318.5,592 328.1,589 337.7,585.5 347.3,582.4 356.9,579 366.5,575.2 376.1,567 385.7,560 395.3,540 404.9,531 414.5,525 424.1,517 433.7,511.7 443.3,505 452.9,501 462.5,500.5 472.1,500.8 481.7,501.2 491.3,501.6 501,502 510.5,502.2 520.1,502.5 529.7,502.7 539.3,503.3 548.9,504.3 558.5,505.3 568.1,507.5 577.7,510.5 587.3,519 596.9,526 606.5,532 616.1,533 625.7,534 635.3,534.7 644.9,534.5 654.5,534.2 664.1,533.5 673.7,532 683.3,530.3 692.9,529.3 702.5,528.7 712.1,529 721.7,529.3 731.3,530 740.9,530.6 750.4,531.3 760,531 769.6,530.7 779.2,530.4 788.8,531 798.4,531.3 808,531 817.6,530.5" fill="none" stroke="#4a7c98" stroke-width="1.1" stroke-linejoin="round" stroke-dasharray="2,3"/>
<polyline points="16,579.6 26,580 40,582.5 50,583.5 60,584 81.2,584.4 100,585.1 114.4,586.6 128.8,589.4 143.2,593 157.6,596.6 172,599.5 186.4,602.4 200.8,604.6 215.2,606 229.6,606.7 244,607.4 258.4,608.2 272.8,607.7 282,607.2 298,606.4 314,603.5 330,600 346,597.6 362,595.2 376.4,592.8 384.4,589.6 395.6,580 410,571.2 426,564.8 442,562 466.7,559.3 493.3,557.3 520,554.7 546.7,550.7 573.3,548.7 600,542.7 606.7,541.3 633.3,536 660,532 686.7,528 713.3,525.3 740,523.3 753.3,522 780,520.7 806.7,518.7 817.6,517" fill="none" stroke="#5a5e5a" stroke-width="1.2" stroke-linejoin="round"/>
<polyline points="16,580.1 26,580.5 40,583 50,584 60,584.5 81.2,584.9 100,585.6 114.4,587.1 128.8,589.9 143.2,593.5 157.6,597.1 172,600 186.4,602.9 200.8,605.1 215.2,606.5 229.6,607.2 244,607.9 258.4,608.7 272.8,608.2 282,607.7 298,606.9 314,604 330,600.5 346,598.1 362,595.7 376.4,593.3 384.4,590.1 395.6,580.5 410,571.7 426,565.3 442,562.5 466.7,559.8 493.3,557.8 520,555.2 546.7,551.2 573.3,549.2 600,543.2 606.7,541.8 633.3,536.5 660,532.5 686.7,528.5 713.3,525.8 740,523.8 753.3,522.5 780,521.2 806.7,519.2 817.6,517.5" fill="none" stroke="#12a012" stroke-width="1.1" stroke-linejoin="round" stroke-dasharray="3,4"/>
<polyline points="16,603.6 21,603.4 30.6,603 40.2,602.6 49.8,605 59.4,610.8 69,612 78.6,612.8 88.2,613.4 97.8,613.7 107.4,612.5 117,609.3 126.6,608.9 136.2,609.3 145.8,610.3 155.4,609.6 165,608.9 174.6,610.5 184.2,612.3 193.8,613.6 203.4,614.8 213,615.8 222.6,615.8 232.2,615.5 241.8,614.6 251.4,612.5 261,609.6 270.6,605.6 280.2,599.2 289.8,592 299.3,588 308.9,583.2 318.5,575.2 328.1,565.6 337.7,560 347.3,554.4 356.9,549.6 366.5,546.4 376.1,541 385.7,530 395.3,510 404.9,487 414.5,474.5 424.1,469 433.7,465.3 443.3,462.5 452.9,461 462.5,461.2 472.1,466 481.7,476 491.3,498.5 500.9,514 510.5,528 520.1,538.7 529.7,546 539.3,552.3 548.9,556.1 558.5,556.7 568.1,556 577.7,554.5 587.3,545.3 596.9,536.5 606.5,530.7 616.1,526.5 625.7,522 635.3,518.5 644.9,516 654.5,515.3 664.1,514 673.7,511.3 683.3,515.5 692.9,520 702.5,524.5 712.1,531 721.7,536.5 731.3,541.5 740.9,545.3 750.4,548.5 760,548.7 769.6,548.7 779.2,546 788.8,544.7 798.4,540 808,533.3 817.6,524.5" fill="none" stroke="#dc143c" stroke-width="1.2" stroke-linejoin="round"/>
<polyline points="16,603.6 21,603.4 30.6,603 40.2,602.6 49.8,605 59.4,610.8 69,612 78.6,612.8 88.2,613.4 97.8,613.7 107.4,612.5 117,609.3 126.6,608.9 136.2,609.3 145.8,610.3 155.4,609.6 165,608.9 174.6,610.5 184.2,612.3 193.8,613.6 203.4,614.8 213,615.8 222.6,615.8 232.2,615.5 241.8,614.6 251.4,612.5 261,609.6 270.6,605.6 280.2,599.2 289.8,592 299.3,588 308.9,583.2 318.5,575.2 328.1,565.6 337.7,560 347.3,554.4 356.9,549.6 366.5,546.4 376.1,541 385.7,530 395.3,510 404.9,487 414.5,474.5 424.1,469 433.7,465.3 443.3,462.5 452.9,461 462.5,461.2 472.1,466 481.7,476 491.3,498.5 500.9,514 510.5,528 520.1,538.7 529.7,546 539.3,552.3 548.9,556.1 558.5,556.7 568.1,556 577.7,554.5 587.3,545.3 596.9,536.5 606.5,530.7 616.1,526.5 625.7,522 635.3,518.5 644.9,516 654.5,515.3 664.1,514 673.7,511.3 683.3,515.5 692.9,520 702.5,524.5 712.1,531 721.7,536.5 731.3,541.5 740.9,545.3 750.4,548.5 760,548.7 769.6,548.7 779.2,546 788.8,544.7 798.4,540 808,533.3 817.6,524.5" fill="none" stroke="#f08030" stroke-width="1" stroke-linejoin="round" stroke-dasharray="1.5,6" stroke-opacity="0.7"/>
</g>
<rect x="27" y="580.1" width="24.9" height="9.1" fill="#ffffff" fill-opacity="0.85" stroke="#a0a0a8" stroke-width="1"/>
<path d="M35,589.2 L40.5,594.5 L46,589.2" fill="#f2f2f6" stroke="#a8a8b0" stroke-width="0.9"/>
<text x="39.45" y="588" font-size="9.5" fill="#000" textLength="22.7" lengthAdjust="spacingAndGlyphs" text-anchor="middle" stroke="#000" stroke-width="0.3">13.47</text>
<rect x="55.3" y="581.1" width="24.4" height="8.6" fill="#ffffff" fill-opacity="0.85" stroke="#a0a0a8" stroke-width="1"/>
<path d="M63,589.7 L68.5,595.5 L74,589.7" fill="#f2f2f6" stroke="#a8a8b0" stroke-width="0.9"/>
<text x="67.5" y="588.5" font-size="9.5" fill="#000" textLength="22.2" lengthAdjust="spacingAndGlyphs" text-anchor="middle" stroke="#000" stroke-width="0.3">13.45</text>
<rect x="103.3" y="572.9" width="24.4" height="8.6" fill="#ffffff" fill-opacity="0.85" stroke="#a0a0a8" stroke-width="1"/>
<path d="M111,581.5 L116.5,587.8 L122,581.5" fill="#f2f2f6" stroke="#a8a8b0" stroke-width="0.9"/>
<text x="115.5" y="580.3" font-size="9.5" fill="#000" textLength="22.2" lengthAdjust="spacingAndGlyphs" text-anchor="middle" stroke="#000" stroke-width="0.3">13.88</text>
<rect x="46.7" y="633.8" width="23.9" height="8.6" fill="#ffffff" fill-opacity="0.85" stroke="#a0a0a8" stroke-width="1"/>
<path d="M54,633.8 L59.5,627.2 L65,633.8" fill="#f2f2f6" stroke="#a8a8b0" stroke-width="0.9"/>
<text x="58.65" y="641.2" font-size="9.5" fill="#000" textLength="21.7" lengthAdjust="spacingAndGlyphs" text-anchor="middle" stroke="#000" stroke-width="0.3">11.88</text>
<rect x="85.5" y="627.6" width="23.5" height="8.6" fill="#ffffff" fill-opacity="0.85" stroke="#a0a0a8" stroke-width="1"/>
<path d="M92,627.6 L97.5,621.5 L103,627.6" fill="#f2f2f6" stroke="#a8a8b0" stroke-width="0.9"/>
<text x="97.25" y="635" font-size="9.5" fill="#000" textLength="21.3" lengthAdjust="spacingAndGlyphs" text-anchor="middle" stroke="#000" stroke-width="0.3">12.18</text>
<rect x="151.3" y="584.2" width="24.6" height="8.6" fill="#ffffff" fill-opacity="0.85" stroke="#a0a0a8" stroke-width="1"/>
<path d="M159,592.8 L164.5,598.4 L170,592.8" fill="#f2f2f6" stroke="#a8a8b0" stroke-width="0.9"/>
<text x="163.6" y="591.6" font-size="9.5" fill="#000" textLength="22.4" lengthAdjust="spacingAndGlyphs" text-anchor="middle" stroke="#000" stroke-width="0.3">13.26</text>
<rect x="142.2" y="633.3" width="24.6" height="8.6" fill="#ffffff" fill-opacity="0.85" stroke="#a0a0a8" stroke-width="1"/>
<path d="M150,633.3 L155.5,627 L161,633.3" fill="#f2f2f6" stroke="#a8a8b0" stroke-width="0.9"/>
<text x="154.5" y="640.7" font-size="9.5" fill="#000" textLength="22.4" lengthAdjust="spacingAndGlyphs" text-anchor="middle" stroke="#000" stroke-width="0.3">11.87</text>
<rect x="180.1" y="633.3" width="24.6" height="8.6" fill="#ffffff" fill-opacity="0.85" stroke="#a0a0a8" stroke-width="1"/>
<path d="M188,633.3 L193.5,627 L199,633.3" fill="#f2f2f6" stroke="#a8a8b0" stroke-width="0.9"/>
<text x="192.4" y="640.7" font-size="9.5" fill="#000" textLength="22.4" lengthAdjust="spacingAndGlyphs" text-anchor="middle" stroke="#000" stroke-width="0.3">11.84</text>
<rect x="219.2" y="583.2" width="24.6" height="8.8" fill="#ffffff" fill-opacity="0.85" stroke="#a0a0a8" stroke-width="1"/>
<path d="M227,592 L232.5,597.5 L238,592" fill="#f2f2f6" stroke="#a8a8b0" stroke-width="0.9"/>
<text x="231.5" y="590.8" font-size="9.5" fill="#000" textLength="22.4" lengthAdjust="spacingAndGlyphs" text-anchor="middle" stroke="#000" stroke-width="0.3">13.33</text>
<rect x="228.3" y="628.5" width="24.1" height="8.6" fill="#ffffff" fill-opacity="0.85" stroke="#a0a0a8" stroke-width="1"/>
<path d="M236,628.5 L241.5,622.2 L247,628.5" fill="#f2f2f6" stroke="#a8a8b0" stroke-width="0.9"/>
<text x="240.35" y="635.9" font-size="9.5" fill="#000" textLength="21.9" lengthAdjust="spacingAndGlyphs" text-anchor="middle" stroke="#000" stroke-width="0.3">12.11</text>
<rect x="276" y="522.1" width="24.9" height="8.6" fill="#ffffff" fill-opacity="0.85" stroke="#a0a0a8" stroke-width="1"/>
<path d="M284,530.7 L289.5,536.8 L295,530.7" fill="#f2f2f6" stroke="#a8a8b0" stroke-width="0.9"/>
<text x="288.45" y="529.5" font-size="9.5" fill="#000" textLength="22.7" lengthAdjust="spacingAndGlyphs" text-anchor="middle" stroke="#000" stroke-width="0.3">17.19</text>
<rect x="295.5" y="595.7" width="23.8" height="8.1" fill="#ffffff" fill-opacity="0.85" stroke="#a0a0a8" stroke-width="1"/>
<path d="M303,595.7 L308.5,589.6 L314,595.7" fill="#f2f2f6" stroke="#a8a8b0" stroke-width="0.9"/>
<text x="307.4" y="602.6" font-size="9.5" fill="#000" textLength="21.6" lengthAdjust="spacingAndGlyphs" text-anchor="middle" stroke="#000" stroke-width="0.3">13.90</text>
<rect x="314.7" y="492.9" width="25.4" height="9" fill="#ffffff" fill-opacity="0.85" stroke="#a0a0a8" stroke-width="1"/>
<path d="M323,501.9 L328.5,507.6 L334,501.9" fill="#f2f2f6" stroke="#a8a8b0" stroke-width="0.9"/>
<text x="327.4" y="500.7" font-size="9.5" fill="#000" textLength="23.2" lengthAdjust="spacingAndGlyphs" text-anchor="middle" stroke="#000" stroke-width="0.3">19.36</text>
<rect x="342.7" y="506.5" width="24.9" height="8.5" fill="#ffffff" fill-opacity="0.85" stroke="#a0a0a8" stroke-width="1"/>
<path d="M351,515 L356.5,520.5 L362,515" fill="#f2f2f6" stroke="#a8a8b0" stroke-width="0.9"/>
<text x="355.15" y="513.8" font-size="9.5" fill="#000" textLength="22.7" lengthAdjust="spacingAndGlyphs" text-anchor="middle" stroke="#000" stroke-width="0.3">18.32</text>
<rect x="353.1" y="565.3" width="24.6" height="8.1" fill="#ffffff" fill-opacity="0.85" stroke="#a0a0a8" stroke-width="1"/>
<path d="M361,565.3 L366.5,559 L372,565.3" fill="#f2f2f6" stroke="#a8a8b0" stroke-width="0.9"/>
<text x="365.4" y="572.2" font-size="9.5" fill="#000" textLength="22.4" lengthAdjust="spacingAndGlyphs" text-anchor="middle" stroke="#000" stroke-width="0.3">15.71</text>
<rect x="381.9" y="199.2" width="25.3" height="9" fill="#ffffff" fill-opacity="0.85" stroke="#a0a0a8" stroke-width="1"/>
<path d="M390,208.2 L395.5,213 L401,208.2" fill="#f2f2f6" stroke="#a8a8b0" stroke-width="0.9"/>
<text x="394.55" y="207" font-size="9.5" fill="#000" textLength="23.1" lengthAdjust="spacingAndGlyphs" text-anchor="middle" stroke="#000" stroke-width="0.3">65.73</text>
<rect x="411.3" y="392.5" width="24" height="7.8" fill="#ffffff" fill-opacity="0.85" stroke="#a0a0a8" stroke-width="1"/>
<path d="M419,400.3 L424.5,406.5 L430,400.3" fill="#f2f2f6" stroke="#a8a8b0" stroke-width="0.9"/>
<text x="423.3" y="399.1" font-size="9.5" fill="#000" textLength="21.8" lengthAdjust="spacingAndGlyphs" text-anchor="middle" stroke="#000" stroke-width="0.3">29.47</text>
<rect x="401.3" y="484.7" width="24" height="8.1" fill="#ffffff" fill-opacity="0.85" stroke="#a0a0a8" stroke-width="1"/>
<path d="M409,484.7 L414.5,478.8 L420,484.7" fill="#f2f2f6" stroke="#a8a8b0" stroke-width="0.9"/>
<text x="413.3" y="491.6" font-size="9.5" fill="#000" textLength="21.8" lengthAdjust="spacingAndGlyphs" text-anchor="middle" stroke="#000" stroke-width="0.3">21.97</text>
<rect x="507.2" y="510.5" width="24.3" height="8.3" fill="#ffffff" fill-opacity="0.85" stroke="#a0a0a8" stroke-width="1"/>
<path d="M514,518.8 L519.5,524.5 L525,518.8" fill="#f2f2f6" stroke="#a8a8b0" stroke-width="0.9"/>
<text x="519.35" y="517.6" font-size="9.5" fill="#000" textLength="22.1" lengthAdjust="spacingAndGlyphs" text-anchor="middle" stroke="#000" stroke-width="0.3">18.06</text>
<rect x="516.5" y="567.8" width="23.7" height="7.7" fill="#ffffff" fill-opacity="0.85" stroke="#a0a0a8" stroke-width="1"/>
<path d="M524,567.8 L529.5,561 L535,567.8" fill="#f2f2f6" stroke="#a8a8b0" stroke-width="0.9"/>
<text x="528.35" y="574.3" font-size="9.5" fill="#000" textLength="21.5" lengthAdjust="spacingAndGlyphs" text-anchor="middle" stroke="#000" stroke-width="0.3">15.61</text>
<rect x="545.2" y="512.5" width="23.9" height="7.7" fill="#ffffff" fill-opacity="0.85" stroke="#a0a0a8" stroke-width="1"/>
<path d="M553,520.2 L558.5,527 L564,520.2" fill="#f2f2f6" stroke="#a8a8b0" stroke-width="0.9"/>
<text x="557.15" y="519" font-size="9.5" fill="#000" textLength="21.7" lengthAdjust="spacingAndGlyphs" text-anchor="middle" stroke="#000" stroke-width="0.3">17.89</text>
<rect x="478.5" y="585.8" width="23.7" height="7.7" fill="#ffffff" fill-opacity="0.85" stroke="#a0a0a8" stroke-width="1"/>
<path d="M486,585.8 L491.5,579 L497,585.8" fill="#f2f2f6" stroke="#a8a8b0" stroke-width="0.9"/>
<text x="490.35" y="592.3" font-size="9.5" fill="#000" textLength="21.5" lengthAdjust="spacingAndGlyphs" text-anchor="middle" stroke="#000" stroke-width="0.3">14.46</text>
<rect x="564.5" y="580.5" width="23.7" height="7.7" fill="#ffffff" fill-opacity="0.85" stroke="#a0a0a8" stroke-width="1"/>
<path d="M572,580.5 L577.5,574 L583,580.5" fill="#f2f2f6" stroke="#a8a8b0" stroke-width="0.9"/>
<text x="576.35" y="587" font-size="9.5" fill="#000" textLength="21.5" lengthAdjust="spacingAndGlyphs" text-anchor="middle" stroke="#000" stroke-width="0.3">14.78</text>
<rect x="583" y="448.8" width="25.3" height="9" fill="#ffffff" fill-opacity="0.85" stroke="#a0a0a8" stroke-width="1"/>
<path d="M591,457.8 L596.5,463.3 L602,457.8" fill="#f2f2f6" stroke="#a8a8b0" stroke-width="0.9"/>
<text x="595.65" y="456.6" font-size="9.5" fill="#000" textLength="23.1" lengthAdjust="spacingAndGlyphs" text-anchor="middle" stroke="#000" stroke-width="0.3">23.31</text>
<rect x="603.2" y="522.5" width="24" height="7.7" fill="#ffffff" fill-opacity="0.85" stroke="#a0a0a8" stroke-width="1"/>
<path d="M610,522.5 L615.5,516.5 L621,522.5" fill="#f2f2f6" stroke="#a8a8b0" stroke-width="0.9"/>
<text x="615.2" y="529" font-size="9.5" fill="#000" textLength="21.8" lengthAdjust="spacingAndGlyphs" text-anchor="middle" stroke="#000" stroke-width="0.3">18.83</text>
<rect x="679.2" y="493.2" width="24.3" height="8.3" fill="#ffffff" fill-opacity="0.85" stroke="#a0a0a8" stroke-width="1"/>
<path d="M687,501.5 L692.5,507 L698,501.5" fill="#f2f2f6" stroke="#a8a8b0" stroke-width="0.9"/>
<text x="691.35" y="500.3" font-size="9.5" fill="#000" textLength="22.1" lengthAdjust="spacingAndGlyphs" text-anchor="middle" stroke="#000" stroke-width="0.3">19.39</text>
<rect x="651.2" y="558.5" width="24.3" height="7.7" fill="#ffffff" fill-opacity="0.85" stroke="#a0a0a8" stroke-width="1"/>
<path d="M658,558.5 L663.5,552 L669,558.5" fill="#f2f2f6" stroke="#a8a8b0" stroke-width="0.9"/>
<text x="663.35" y="565" font-size="9.5" fill="#000" textLength="22.1" lengthAdjust="spacingAndGlyphs" text-anchor="middle" stroke="#000" stroke-width="0.3">16.23</text>
<rect x="737.2" y="578.5" width="24.3" height="8.3" fill="#ffffff" fill-opacity="0.85" stroke="#a0a0a8" stroke-width="1"/>
<path d="M745,578.5 L750.5,571.5 L756,578.5" fill="#f2f2f6" stroke="#a8a8b0" stroke-width="0.9"/>
<text x="749.35" y="585.6" font-size="9.5" fill="#000" textLength="22.1" lengthAdjust="spacingAndGlyphs" text-anchor="middle" stroke="#000" stroke-width="0.3">14.90</text>
<rect x="785.8" y="476.8" width="24.1" height="8.7" fill="#ffffff" fill-opacity="0.85" stroke="#a0a0a8" stroke-width="1"/>
<path d="M793,485.5 L798.5,491 L804,485.5" fill="#f2f2f6" stroke="#a8a8b0" stroke-width="0.9"/>
<text x="797.85" y="484.3" font-size="9.5" fill="#000" textLength="21.9" lengthAdjust="spacingAndGlyphs" text-anchor="middle" stroke="#000" stroke-width="0.3">20.75</text>
<rect x="794.5" y="526.5" width="24.3" height="8.3" fill="#ffffff" fill-opacity="0.85" stroke="#a0a0a8" stroke-width="1"/>
<path d="M802,526.5 L807.5,519.5 L813,526.5" fill="#f2f2f6" stroke="#a8a8b0" stroke-width="0.9"/>
<text x="806.65" y="533.6" font-size="9.5" fill="#000" textLength="22.1" lengthAdjust="spacingAndGlyphs" text-anchor="middle" stroke="#000" stroke-width="0.3">18.48</text>
<rect x="259.6" y="592.8" width="250.4" height="4.8" fill="#f2f230" fill-opacity="0.55" stroke="#ecec30" stroke-width="1.2" stroke-opacity="0.85"/>
<rect x="308.4" y="564.5" width="163.3" height="9.1" fill="#f09a30" fill-opacity="0.45" stroke="#f09a30" stroke-width="1.5" stroke-opacity="0.85"/>
<rect x="576" y="556.7" width="174.7" height="12.6" fill="#f09a30" fill-opacity="0.45" stroke="#f09a30" stroke-width="1.5" stroke-opacity="0.85"/>
<rect x="394.2" y="404.2" width="20.8" height="57.5" fill="#f09a30" fill-opacity="0.5" stroke="#f09a30" stroke-width="1.5" stroke-opacity="0.85"/>
<rect x="376.5" y="493.8" width="77.7" height="23.8" fill="#e040e0" fill-opacity="0.45" stroke="#e050e0" stroke-width="2" stroke-opacity="0.85"/>
<line x1="17" y1="500.5" x2="817.6" y2="500.5" stroke="#ff0000" stroke-width="3"/>
<line x1="587.3" y1="500.5" x2="605.3" y2="500.5" stroke="#118811" stroke-width="3"/>
<line x1="616" y1="500.5" x2="624.7" y2="500.5" stroke="#118811" stroke-width="3"/>
<line x1="798" y1="500.5" x2="807" y2="500.5" stroke="#118811" stroke-width="3"/>
<line x1="817.6" y1="500.5" x2="1208" y2="500.5" stroke="#118811" stroke-width="3"/>
<line x1="385.2" y1="500.5" x2="451.7" y2="500.5" stroke="#505a50" stroke-width="3"/>
<rect x="615.2" y="327.6" width="193.6" height="33.8" fill="#b0b0b8"/>
<rect x="613.7" y="326.1" width="192.6" height="32.8" fill="#fff" stroke="#3a6e8c" stroke-width="1"/>
<text x="616.2" y="349.7" font-size="23.5" fill="#000" textLength="177.4" lengthAdjust="spacingAndGlyphs">VIX - Daily, 4mth</text>
<rect x="979.3" y="326.4" width="91.3" height="54.2" fill="#b0b0b8"/>
<rect x="977.8" y="324.9" width="90.3" height="53.2" fill="#fff" stroke="#3a6e8c" stroke-width="1"/>
<text x="980.6" y="345.7" font-size="20" fill="#000" textLength="66" lengthAdjust="spacingAndGlyphs">Nov`5th</text>
<text x="981.6" y="369.7" font-size="20" fill="#000" textLength="72" lengthAdjust="spacingAndGlyphs">Election!</text>
<path d="M17.5,196 V671 M17,196.5 H1209" stroke="#e6e6f2" stroke-width="1"/>
<rect x="16.5" y="195.5" width="1193" height="476" fill="none" stroke="#8c8ca0" stroke-width="1"/>
<rect x="16" y="685" width="1193" height="167" fill="#dadae8"/>
<line x1="30.5" y1="685" x2="30.5" y2="852" stroke="#c9c9da" stroke-width="1"/>
<line x1="78.5" y1="685" x2="78.5" y2="852" stroke="#c9c9da" stroke-width="1"/>
<line x1="116.5" y1="685" x2="116.5" y2="852" stroke="#c9c9da" stroke-width="1"/>
<line x1="164.5" y1="685" x2="164.5" y2="852" stroke="#b9b9cb" stroke-width="1"/>
<line x1="203.5" y1="685" x2="203.5" y2="852" stroke="#c9c9da" stroke-width="1"/>
<line x1="251.5" y1="685" x2="251.5" y2="852" stroke="#c9c9da" stroke-width="1"/>
<line x1="299.5" y1="685" x2="299.5" y2="852" stroke="#c9c9da" stroke-width="1"/>
<line x1="347.5" y1="685" x2="347.5" y2="852" stroke="#c9c9da" stroke-width="1"/>
<line x1="376.5" y1="685" x2="376.5" y2="852" stroke="#b9b9cb" stroke-width="1"/>
<line x1="395.5" y1="685" x2="395.5" y2="852" stroke="#c9c9da" stroke-width="1"/>
<line x1="443.5" y1="685" x2="443.5" y2="852" stroke="#c9c9da" stroke-width="1"/>
<line x1="491.5" y1="685" x2="491.5" y2="852" stroke="#c9c9da" stroke-width="1"/>
<line x1="539.5" y1="685" x2="539.5" y2="852" stroke="#c9c9da" stroke-width="1"/>
<line x1="587.5" y1="685" x2="587.5" y2="852" stroke="#b9b9cb" stroke-width="1"/>
<line x1="625.5" y1="685" x2="625.5" y2="852" stroke="#c9c9da" stroke-width="1"/>
<line x1="673.5" y1="685" x2="673.5" y2="852" stroke="#c9c9da" stroke-width="1"/>
<line x1="721.5" y1="685" x2="721.5" y2="852" stroke="#c9c9da" stroke-width="1"/>
<line x1="769.5" y1="685" x2="769.5" y2="852" stroke="#c9c9da" stroke-width="1"/>
<line x1="779.5" y1="685" x2="779.5" y2="852" stroke="#b9b9cb" stroke-width="1"/>
<line x1="817.5" y1="685" x2="817.5" y2="852" stroke="#c9c9da" stroke-width="1"/>
<line x1="865.5" y1="685" x2="865.5" y2="852" stroke="#c9c9da" stroke-width="1"/>
<line x1="913.5" y1="685" x2="913.5" y2="852" stroke="#c9c9da" stroke-width="1"/>
<line x1="961.5" y1="685" x2="961.5" y2="852" stroke="#c9c9da" stroke-width="1"/>
<line x1="999.5" y1="685" x2="999.5" y2="852" stroke="#b9b9cb" stroke-width="1"/>
<line x1="1009.5" y1="685" x2="1009.5" y2="852" stroke="#c9c9da" stroke-width="1"/>
<line x1="1057.5" y1="685" x2="1057.5" y2="852" stroke="#c9c9da" stroke-width="1"/>
<line x1="1105.5" y1="685" x2="1105.5" y2="852" stroke="#c9c9da" stroke-width="1"/>
<line x1="1153.5" y1="685" x2="1153.5" y2="852" stroke="#c9c9da" stroke-width="1"/>
<line x1="1191.5" y1="685" x2="1191.5" y2="852" stroke="#b9b9cb" stroke-width="1"/>
<line x1="16" y1="829.5" x2="1209" y2="829.5" stroke="#c8c8d6" stroke-width="1"/>
<line x1="16" y1="804.5" x2="1209" y2="804.5" stroke="#c8c8d6" stroke-width="1"/>
<line x1="16" y1="779.5" x2="1209" y2="779.5" stroke="#c8c8d6" stroke-width="1"/>
<line x1="16" y1="754.5" x2="1209" y2="754.5" stroke="#c8c8d6" stroke-width="1"/>
<line x1="16" y1="729.5" x2="1209" y2="729.5" stroke="#c8c8d6" stroke-width="1"/>
<line x1="16" y1="704.5" x2="1209" y2="704.5" stroke="#c8c8d6" stroke-width="1"/>
<g clip-path="url(#ch)">
<rect x="17.8" y="777.4" width="6.2" height="2.1" fill="#52a2d2" stroke="#2d6d92" stroke-width="0.9"/>
<rect x="27.4" y="776.2" width="6.2" height="3.3" fill="#52a2d2" stroke="#2d6d92" stroke-width="0.9"/>
<rect x="37" y="776.2" width="6.2" height="3.3" fill="#52a2d2" stroke="#2d6d92" stroke-width="0.9"/>
<rect x="46.6" y="779" width="6.2" height="1.2" fill="#52a2d2" stroke="#2d6d92" stroke-width="0.9"/>
<rect x="56.19" y="779.5" width="6.2" height="1.3" fill="#52a2d2" stroke="#2d6d92" stroke-width="0.9"/>
<rect x="65.79" y="779.3" width="6.2" height="1.2" fill="#52a2d2" stroke="#2d6d92" stroke-width="0.9"/>
<rect x="75.39" y="777.2" width="6.2" height="2.3" fill="#52a2d2" stroke="#2d6d92" stroke-width="0.9"/>
<rect x="84.99" y="777.2" width="6.2" height="2.3" fill="#52a2d2" stroke="#2d6d92" stroke-width="0.9"/>
<rect x="94.59" y="774.1" width="6.2" height="5.4" fill="#52a2d2" stroke="#2d6d92" stroke-width="0.9"/>
<rect x="104.18" y="773.1" width="6.2" height="6.4" fill="#52a2d2" stroke="#2d6d92" stroke-width="0.9"/>
<rect x="113.78" y="772.1" width="6.2" height="7.4" fill="#52a2d2" stroke="#2d6d92" stroke-width="0.9"/>
<rect x="123.38" y="773.1" width="6.2" height="6.4" fill="#52a2d2" stroke="#2d6d92" stroke-width="0.9"/>
<rect x="132.98" y="775.1" width="6.2" height="4.4" fill="#52a2d2" stroke="#2d6d92" stroke-width="0.9"/>
<rect x="142.58" y="777.2" width="6.2" height="2.3" fill="#52a2d2" stroke="#2d6d92" stroke-width="0.9"/>
<rect x="152.17" y="779.2" width="6.2" height="1.2" fill="#52a2d2" stroke="#2d6d92" stroke-width="0.9"/>
<rect x="161.77" y="779.5" width="6.2" height="1.2" fill="#52a2d2" stroke="#2d6d92" stroke-width="0.9"/>
<rect x="171.37" y="779.5" width="6.2" height="1.2" fill="#52a2d2" stroke="#2d6d92" stroke-width="0.9"/>
<rect x="180.97" y="779.5" width="6.2" height="1.8" fill="#52a2d2" stroke="#2d6d92" stroke-width="0.9"/>
<rect x="190.57" y="779.5" width="6.2" height="1.2" fill="#52a2d2" stroke="#2d6d92" stroke-width="0.9"/>
<rect x="200.16" y="779.4" width="6.2" height="1.2" fill="#52a2d2" stroke="#2d6d92" stroke-width="0.9"/>
<rect x="209.76" y="779.5" width="6.2" height="1.2" fill="#52a2d2" stroke="#2d6d92" stroke-width="0.9"/>
<rect x="219.36" y="776.2" width="6.2" height="3.3" fill="#52a2d2" stroke="#2d6d92" stroke-width="0.9"/>
<rect x="228.96" y="775.1" width="6.2" height="4.4" fill="#52a2d2" stroke="#2d6d92" stroke-width="0.9"/>
<rect x="238.56" y="776.2" width="6.2" height="3.3" fill="#52a2d2" stroke="#2d6d92" stroke-width="0.9"/>
<rect x="248.15" y="774.1" width="6.2" height="5.4" fill="#52a2d2" stroke="#2d6d92" stroke-width="0.9"/>
<rect x="257.75" y="773.1" width="6.2" height="6.4" fill="#52a2d2" stroke="#2d6d92" stroke-width="0.9"/>
<rect x="267.35" y="769.3" width="6.2" height="10.2" fill="#52a2d2" stroke="#2d6d92" stroke-width="0.9"/>
<rect x="276.95" y="762.1" width="6.2" height="17.4" fill="#52a2d2" stroke="#2d6d92" stroke-width="0.9"/>
<rect x="286.55" y="756.5" width="6.2" height="23" fill="#52a2d2" stroke="#2d6d92" stroke-width="0.9"/>
<rect x="296.14" y="760" width="6.2" height="19.5" fill="#52a2d2" stroke="#2d6d92" stroke-width="0.9"/>
<rect x="305.74" y="763.4" width="6.2" height="16.1" fill="#52a2d2" stroke="#2d6d92" stroke-width="0.9"/>
<rect x="315.34" y="756.5" width="6.2" height="23" fill="#52a2d2" stroke="#2d6d92" stroke-width="0.9"/>
<rect x="324.94" y="751.2" width="6.2" height="28.3" fill="#52a2d2" stroke="#2d6d92" stroke-width="0.9"/>
<rect x="334.54" y="757.5" width="6.2" height="22" fill="#52a2d2" stroke="#2d6d92" stroke-width="0.9"/>
<rect x="344.13" y="761.3" width="6.2" height="18.2" fill="#52a2d2" stroke="#2d6d92" stroke-width="0.9"/>
<rect x="353.73" y="761.3" width="6.2" height="18.2" fill="#52a2d2" stroke="#2d6d92" stroke-width="0.9"/>
<rect x="363.33" y="767.2" width="6.2" height="12.3" fill="#52a2d2" stroke="#2d6d92" stroke-width="0.9"/>
<rect x="372.93" y="765.4" width="6.2" height="14.1" fill="#52a2d2" stroke="#2d6d92" stroke-width="0.9"/>
<rect x="382.53" y="749.3" width="6.2" height="30.2" fill="#52a2d2" stroke="#2d6d92" stroke-width="0.9"/>
<rect x="392.12" y="692.2" width="6.2" height="87.3" fill="#52a2d2" stroke="#2d6d92" stroke-width="0.9"/>
<rect x="401.72" y="697.3" width="6.2" height="82.2" fill="#52a2d2" stroke="#2d6d92" stroke-width="0.9"/>
<rect x="411.32" y="705.2" width="6.2" height="74.3" fill="#52a2d2" stroke="#2d6d92" stroke-width="0.9"/>
<rect x="420.92" y="728.3" width="6.2" height="51.2" fill="#52a2d2" stroke="#2d6d92" stroke-width="0.9"/>
<rect x="430.52" y="757.5" width="6.2" height="22" fill="#52a2d2" stroke="#2d6d92" stroke-width="0.9"/>
<rect x="440.11" y="776.2" width="6.2" height="3.3" fill="#52a2d2" stroke="#2d6d92" stroke-width="0.9"/>
<rect x="449.71" y="779.5" width="6.2" height="18.9" fill="#52a2d2" stroke="#2d6d92" stroke-width="0.9"/>
<rect x="459.31" y="779.5" width="6.2" height="38.9" fill="#52a2d2" stroke="#2d6d92" stroke-width="0.9"/>
<rect x="468.91" y="779.5" width="6.2" height="53.8" fill="#52a2d2" stroke="#2d6d92" stroke-width="0.9"/>
<rect x="478.51" y="779.5" width="6.2" height="62.7" fill="#52a2d2" stroke="#2d6d92" stroke-width="0.9"/>
<rect x="488.1" y="779.5" width="6.2" height="65.8" fill="#52a2d2" stroke="#2d6d92" stroke-width="0.9"/>
<rect x="497.7" y="779.5" width="6.2" height="61.4" fill="#52a2d2" stroke="#2d6d92" stroke-width="0.9"/>
<rect x="507.3" y="779.5" width="6.2" height="54.8" fill="#52a2d2" stroke="#2d6d92" stroke-width="0.9"/>
<rect x="516.9" y="779.5" width="6.2" height="44" fill="#52a2d2" stroke="#2d6d92" stroke-width="0.9"/>
<rect x="526.5" y="779.5" width="6.2" height="40.7" fill="#52a2d2" stroke="#2d6d92" stroke-width="0.9"/>
<rect x="536.09" y="779.5" width="6.2" height="35.8" fill="#52a2d2" stroke="#2d6d92" stroke-width="0.9"/>
<rect x="545.69" y="779.5" width="6.2" height="32.5" fill="#52a2d2" stroke="#2d6d92" stroke-width="0.9"/>
<rect x="555.29" y="779.5" width="6.2" height="24.3" fill="#52a2d2" stroke="#2d6d92" stroke-width="0.9"/>
<rect x="564.89" y="779.5" width="6.2" height="22.8" fill="#52a2d2" stroke="#2d6d92" stroke-width="0.9"/>
<rect x="574.49" y="779.5" width="6.2" height="21.8" fill="#52a2d2" stroke="#2d6d92" stroke-width="0.9"/>
<rect x="584.08" y="779.5" width="6.2" height="1.8" fill="#52a2d2" stroke="#2d6d92" stroke-width="0.9"/>
<rect x="593.68" y="767.2" width="6.2" height="12.3" fill="#52a2d2" stroke="#2d6d92" stroke-width="0.9"/>
<rect x="603.28" y="763.2" width="6.2" height="16.3" fill="#52a2d2" stroke="#2d6d92" stroke-width="0.9"/>
<rect x="612.88" y="753.2" width="6.2" height="26.3" fill="#52a2d2" stroke="#2d6d92" stroke-width="0.9"/>
<rect x="622.48" y="758.2" width="6.2" height="21.3" fill="#52a2d2" stroke="#2d6d92" stroke-width="0.9"/>
<rect x="632.07" y="763.2" width="6.2" height="16.3" fill="#52a2d2" stroke="#2d6d92" stroke-width="0.9"/>
<rect x="641.67" y="772.4" width="6.2" height="7.1" fill="#52a2d2" stroke="#2d6d92" stroke-width="0.9"/>
<rect x="651.27" y="779.5" width="6.2" height="1.2" fill="#52a2d2" stroke="#2d6d92" stroke-width="0.9"/>
<rect x="660.87" y="779.5" width="6.2" height="7.9" fill="#52a2d2" stroke="#2d6d92" stroke-width="0.9"/>
<rect x="670.47" y="779.5" width="6.2" height="9.9" fill="#52a2d2" stroke="#2d6d92" stroke-width="0.9"/>
<rect x="680.06" y="779.5" width="6.2" height="8.5" fill="#52a2d2" stroke="#2d6d92" stroke-width="0.9"/>
<rect x="689.66" y="779.5" width="6.2" height="5.8" fill="#52a2d2" stroke="#2d6d92" stroke-width="0.9"/>
<rect x="699.26" y="779.5" width="6.2" height="9.9" fill="#52a2d2" stroke="#2d6d92" stroke-width="0.9"/>
<rect x="708.86" y="779.5" width="6.2" height="12.7" fill="#52a2d2" stroke="#2d6d92" stroke-width="0.9"/>
<rect x="718.46" y="779.5" width="6.2" height="14.7" fill="#52a2d2" stroke="#2d6d92" stroke-width="0.9"/>
<rect x="728.05" y="779.5" width="6.2" height="16.8" fill="#52a2d2" stroke="#2d6d92" stroke-width="0.9"/>
<rect x="737.65" y="779.5" width="6.2" height="16.8" fill="#52a2d2" stroke="#2d6d92" stroke-width="0.9"/>
<rect x="747.25" y="779.5" width="6.2" height="15.8" fill="#52a2d2" stroke="#2d6d92" stroke-width="0.9"/>
<rect x="756.85" y="779.5" width="6.2" height="9.9" fill="#52a2d2" stroke="#2d6d92" stroke-width="0.9"/>
<rect x="766.45" y="779.5" width="6.2" height="5.8" fill="#52a2d2" stroke="#2d6d92" stroke-width="0.9"/>
<rect x="776.04" y="773.4" width="6.2" height="6.1" fill="#52a2d2" stroke="#2d6d92" stroke-width="0.9"/>
<rect x="785.64" y="768.2" width="6.2" height="11.3" fill="#52a2d2" stroke="#2d6d92" stroke-width="0.9"/>
<rect x="795.24" y="759.3" width="6.2" height="20.2" fill="#52a2d2" stroke="#2d6d92" stroke-width="0.9"/>
<rect x="804.84" y="759.3" width="6.2" height="20.2" fill="#52a2d2" stroke="#2d6d92" stroke-width="0.9"/>
<rect x="814.44" y="749.5" width="6.2" height="30" fill="#52a2d2" stroke="#2d6d92" stroke-width="0.9"/>
</g>
<line x1="395.5" y1="687.8" x2="491.5" y2="777.4" stroke="#ff0000" stroke-width="2.2" stroke-dasharray="9,3,2,3,2,3"/>
<line x1="491.5" y1="851.7" x2="615.7" y2="789.5" stroke="#0000e6" stroke-width="2.2" stroke-dasharray="6,4"/>
<line x1="616.6" y1="747.4" x2="683.2" y2="774.1" stroke="#ff0000" stroke-width="2.2" stroke-dasharray="6,4"/>
<line x1="692.6" y1="769.3" x2="739.8" y2="775.1" stroke="#ff0000" stroke-width="2.2" stroke-dasharray="6,4"/>
<line x1="673.8" y1="798" x2="690.9" y2="794.6" stroke="#0000e6" stroke-width="2.2" stroke-dasharray="6,4"/>
<line x1="750.8" y1="804.2" x2="835" y2="782.4" stroke="#0000e6" stroke-width="2.2" stroke-dasharray="6,4"/>
<path d="M17.5,686 V852 M17,686.5 H1209" stroke="#e6e6f2" stroke-width="1"/>
<rect x="16.5" y="685.5" width="1193" height="167" fill="none" stroke="#8c8ca0" stroke-width="1"/>
<rect x="16" y="852" width="1193" height="167" fill="#dadae8"/>
<line x1="30.5" y1="852" x2="30.5" y2="1019" stroke="#c9c9da" stroke-width="1"/>
<line x1="78.5" y1="852" x2="78.5" y2="1019" stroke="#c9c9da" stroke-width="1"/>
<line x1="116.5" y1="852" x2="116.5" y2="1019" stroke="#c9c9da" stroke-width="1"/>
<line x1="164.5" y1="852" x2="164.5" y2="1019" stroke="#b9b9cb" stroke-width="1"/>
<line x1="203.5" y1="852" x2="203.5" y2="1019" stroke="#c9c9da" stroke-width="1"/>
<line x1="251.5" y1="852" x2="251.5" y2="1019" stroke="#c9c9da" stroke-width="1"/>
<line x1="299.5" y1="852" x2="299.5" y2="1019" stroke="#c9c9da" stroke-width="1"/>
<line x1="347.5" y1="852" x2="347.5" y2="1019" stroke="#c9c9da" stroke-width="1"/>
<line x1="376.5" y1="852" x2="376.5" y2="1019" stroke="#b9b9cb" stroke-width="1"/>
<line x1="395.5" y1="852" x2="395.5" y2="1019" stroke="#c9c9da" stroke-width="1"/>
<line x1="443.5" y1="852" x2="443.5" y2="1019" stroke="#c9c9da" stroke-width="1"/>
<line x1="491.5" y1="852" x2="491.5" y2="1019" stroke="#c9c9da" stroke-width="1"/>
<line x1="539.5" y1="852" x2="539.5" y2="1019" stroke="#c9c9da" stroke-width="1"/>
<line x1="587.5" y1="852" x2="587.5" y2="1019" stroke="#b9b9cb" stroke-width="1"/>
<line x1="625.5" y1="852" x2="625.5" y2="1019" stroke="#c9c9da" stroke-width="1"/>
<line x1="673.5" y1="852" x2="673.5" y2="1019" stroke="#c9c9da" stroke-width="1"/>
<line x1="721.5" y1="852" x2="721.5" y2="1019" stroke="#c9c9da" stroke-width="1"/>
<line x1="769.5" y1="852" x2="769.5" y2="1019" stroke="#c9c9da" stroke-width="1"/>
<line x1="779.5" y1="852" x2="779.5" y2="1019" stroke="#b9b9cb" stroke-width="1"/>
<line x1="817.5" y1="852" x2="817.5" y2="1019" stroke="#c9c9da" stroke-width="1"/>
<line x1="865.5" y1="852" x2="865.5" y2="1019" stroke="#c9c9da" stroke-width="1"/>
<line x1="913.5" y1="852" x2="913.5" y2="1019" stroke="#c9c9da" stroke-width="1"/>
<line x1="961.5" y1="852" x2="961.5" y2="1019" stroke="#c9c9da" stroke-width="1"/>
<line x1="999.5" y1="852" x2="999.5" y2="1019" stroke="#b9b9cb" stroke-width="1"/>
<line x1="1009.5" y1="852" x2="1009.5" y2="1019" stroke="#c9c9da" stroke-width="1"/>
<line x1="1057.5" y1="852" x2="1057.5" y2="1019" stroke="#c9c9da" stroke-width="1"/>
<line x1="1105.5" y1="852" x2="1105.5" y2="1019" stroke="#c9c9da" stroke-width="1"/>
<line x1="1153.5" y1="852" x2="1153.5" y2="1019" stroke="#c9c9da" stroke-width="1"/>
<line x1="1191.5" y1="852" x2="1191.5" y2="1019" stroke="#b9b9cb" stroke-width="1"/>
<line x1="16" y1="1018.5" x2="1209" y2="1018.5" stroke="#c8c8d6" stroke-width="1"/>
<line x1="16" y1="1003.5" x2="1209" y2="1003.5" stroke="#c8c8d6" stroke-width="1"/>
<line x1="16" y1="988.5" x2="1209" y2="988.5" stroke="#c8c8d6" stroke-width="1"/>
<line x1="16" y1="973.5" x2="1209" y2="973.5" stroke="#c8c8d6" stroke-width="1"/>
<line x1="16" y1="958.5" x2="1209" y2="958.5" stroke="#c8c8d6" stroke-width="1"/>
<line x1="16" y1="943.5" x2="1209" y2="943.5" stroke="#c8c8d6" stroke-width="1"/>
<line x1="16" y1="928.5" x2="1209" y2="928.5" stroke="#c8c8d6" stroke-width="1"/>
<line x1="16" y1="913.5" x2="1209" y2="913.5" stroke="#c8c8d6" stroke-width="1"/>
<line x1="16" y1="898.5" x2="1209" y2="898.5" stroke="#c8c8d6" stroke-width="1"/>
<line x1="16" y1="883.5" x2="1209" y2="883.5" stroke="#c8c8d6" stroke-width="1"/>
<line x1="16" y1="868.5" x2="1209" y2="868.5" stroke="#c8c8d6" stroke-width="1"/>
<line x1="16" y1="853.5" x2="1209" y2="853.5" stroke="#c8c8d6" stroke-width="1"/>
<g clip-path="url(#cm)">
<rect x="17.8" y="971.74" width="6.2" height="1.26" fill="#52a2d2" stroke="#2d6d92" stroke-width="0.9"/>
<rect x="27.4" y="971.02" width="6.2" height="1.98" fill="#52a2d2" stroke="#2d6d92" stroke-width="0.9"/>
<rect x="37" y="971.02" width="6.2" height="1.98" fill="#52a2d2" stroke="#2d6d92" stroke-width="0.9"/>
<rect x="46.6" y="972.7" width="6.2" height="0.6" fill="#52a2d2" stroke="#2d6d92" stroke-width="0.9"/>
<rect x="56.19" y="973" width="6.2" height="0.78" fill="#52a2d2" stroke="#2d6d92" stroke-width="0.9"/>
<rect x="65.79" y="972.88" width="6.2" height="0.6" fill="#52a2d2" stroke="#2d6d92" stroke-width="0.9"/>
<rect x="75.39" y="971.62" width="6.2" height="1.38" fill="#52a2d2" stroke="#2d6d92" stroke-width="0.9"/>
<rect x="84.99" y="971.62" width="6.2" height="1.38" fill="#52a2d2" stroke="#2d6d92" stroke-width="0.9"/>
<rect x="94.59" y="969.76" width="6.2" height="3.24" fill="#52a2d2" stroke="#2d6d92" stroke-width="0.9"/>
<rect x="104.18" y="969.16" width="6.2" height="3.84" fill="#52a2d2" stroke="#2d6d92" stroke-width="0.9"/>
<rect x="113.78" y="968.56" width="6.2" height="4.44" fill="#52a2d2" stroke="#2d6d92" stroke-width="0.9"/>
<rect x="123.38" y="969.16" width="6.2" height="3.84" fill="#52a2d2" stroke="#2d6d92" stroke-width="0.9"/>
<rect x="132.98" y="970.36" width="6.2" height="2.64" fill="#52a2d2" stroke="#2d6d92" stroke-width="0.9"/>
<rect x="142.58" y="971.62" width="6.2" height="1.38" fill="#52a2d2" stroke="#2d6d92" stroke-width="0.9"/>
<rect x="152.17" y="972.82" width="6.2" height="0.6" fill="#52a2d2" stroke="#2d6d92" stroke-width="0.9"/>
<rect x="161.77" y="973" width="6.2" height="0.6" fill="#52a2d2" stroke="#2d6d92" stroke-width="0.9"/>
<rect x="171.37" y="973" width="6.2" height="0.6" fill="#52a2d2" stroke="#2d6d92" stroke-width="0.9"/>
<rect x="180.97" y="973" width="6.2" height="1.08" fill="#52a2d2" stroke="#2d6d92" stroke-width="0.9"/>
<rect x="190.57" y="973" width="6.2" height="0.6" fill="#52a2d2" stroke="#2d6d92" stroke-width="0.9"/>
<rect x="200.16" y="972.94" width="6.2" height="0.6" fill="#52a2d2" stroke="#2d6d92" stroke-width="0.9"/>
<rect x="209.76" y="973" width="6.2" height="0.6" fill="#52a2d2" stroke="#2d6d92" stroke-width="0.9"/>
<rect x="219.36" y="971.02" width="6.2" height="1.98" fill="#52a2d2" stroke="#2d6d92" stroke-width="0.9"/>
<rect x="228.96" y="970.36" width="6.2" height="2.64" fill="#52a2d2" stroke="#2d6d92" stroke-width="0.9"/>
<rect x="238.56" y="971.02" width="6.2" height="1.98" fill="#52a2d2" stroke="#2d6d92" stroke-width="0.9"/>
<rect x="248.15" y="969.76" width="6.2" height="3.24" fill="#52a2d2" stroke="#2d6d92" stroke-width="0.9"/>
<rect x="257.75" y="969.16" width="6.2" height="3.84" fill="#52a2d2" stroke="#2d6d92" stroke-width="0.9"/>
<rect x="267.35" y="966.88" width="6.2" height="6.12" fill="#52a2d2" stroke="#2d6d92" stroke-width="0.9"/>
<rect x="276.95" y="962.56" width="6.2" height="10.44" fill="#52a2d2" stroke="#2d6d92" stroke-width="0.9"/>
<rect x="286.55" y="959.2" width="6.2" height="13.8" fill="#52a2d2" stroke="#2d6d92" stroke-width="0.9"/>
<rect x="296.14" y="961.3" width="6.2" height="11.7" fill="#52a2d2" stroke="#2d6d92" stroke-width="0.9"/>
<rect x="305.74" y="963.34" width="6.2" height="9.66" fill="#52a2d2" stroke="#2d6d92" stroke-width="0.9"/>
<rect x="315.34" y="959.2" width="6.2" height="13.8" fill="#52a2d2" stroke="#2d6d92" stroke-width="0.9"/>
<rect x="324.94" y="956.02" width="6.2" height="16.98" fill="#52a2d2" stroke="#2d6d92" stroke-width="0.9"/>
<rect x="334.54" y="959.8" width="6.2" height="13.2" fill="#52a2d2" stroke="#2d6d92" stroke-width="0.9"/>
<rect x="344.13" y="962.08" width="6.2" height="10.92" fill="#52a2d2" stroke="#2d6d92" stroke-width="0.9"/>
<rect x="353.73" y="962.08" width="6.2" height="10.92" fill="#52a2d2" stroke="#2d6d92" stroke-width="0.9"/>
<rect x="363.33" y="965.62" width="6.2" height="7.38" fill="#52a2d2" stroke="#2d6d92" stroke-width="0.9"/>
<rect x="372.93" y="964.54" width="6.2" height="8.46" fill="#52a2d2" stroke="#2d6d92" stroke-width="0.9"/>
<rect x="382.53" y="954.88" width="6.2" height="18.12" fill="#52a2d2" stroke="#2d6d92" stroke-width="0.9"/>
<rect x="392.12" y="920.62" width="6.2" height="52.38" fill="#52a2d2" stroke="#2d6d92" stroke-width="0.9"/>
<rect x="401.72" y="923.68" width="6.2" height="49.32" fill="#52a2d2" stroke="#2d6d92" stroke-width="0.9"/>
<rect x="411.32" y="928.42" width="6.2" height="44.58" fill="#52a2d2" stroke="#2d6d92" stroke-width="0.9"/>
<rect x="420.92" y="942.28" width="6.2" height="30.72" fill="#52a2d2" stroke="#2d6d92" stroke-width="0.9"/>
<rect x="430.52" y="959.8" width="6.2" height="13.2" fill="#52a2d2" stroke="#2d6d92" stroke-width="0.9"/>
<rect x="440.11" y="971.02" width="6.2" height="1.98" fill="#52a2d2" stroke="#2d6d92" stroke-width="0.9"/>
<rect x="449.71" y="973" width="6.2" height="11.34" fill="#52a2d2" stroke="#2d6d92" stroke-width="0.9"/>
<rect x="459.31" y="973" width="6.2" height="23.34" fill="#52a2d2" stroke="#2d6d92" stroke-width="0.9"/>
<rect x="468.91" y="973" width="6.2" height="32.28" fill="#52a2d2" stroke="#2d6d92" stroke-width="0.9"/>
<rect x="478.51" y="973" width="6.2" height="37.62" fill="#52a2d2" stroke="#2d6d92" stroke-width="0.9"/>
<rect x="488.1" y="973" width="6.2" height="39.48" fill="#52a2d2" stroke="#2d6d92" stroke-width="0.9"/>
<rect x="497.7" y="973" width="6.2" height="36.84" fill="#52a2d2" stroke="#2d6d92" stroke-width="0.9"/>
<rect x="507.3" y="973" width="6.2" height="32.88" fill="#52a2d2" stroke="#2d6d92" stroke-width="0.9"/>
<rect x="516.9" y="973" width="6.2" height="26.4" fill="#52a2d2" stroke="#2d6d92" stroke-width="0.9"/>
<rect x="526.5" y="973" width="6.2" height="24.42" fill="#52a2d2" stroke="#2d6d92" stroke-width="0.9"/>
<rect x="536.09" y="973" width="6.2" height="21.48" fill="#52a2d2" stroke="#2d6d92" stroke-width="0.9"/>
<rect x="545.69" y="973" width="6.2" height="19.5" fill="#52a2d2" stroke="#2d6d92" stroke-width="0.9"/>
<rect x="555.29" y="973" width="6.2" height="14.58" fill="#52a2d2" stroke="#2d6d92" stroke-width="0.9"/>
<rect x="564.89" y="973" width="6.2" height="13.68" fill="#52a2d2" stroke="#2d6d92" stroke-width="0.9"/>
<rect x="574.49" y="973" width="6.2" height="13.08" fill="#52a2d2" stroke="#2d6d92" stroke-width="0.9"/>
<rect x="584.08" y="973" width="6.2" height="1.08" fill="#52a2d2" stroke="#2d6d92" stroke-width="0.9"/>
<rect x="593.68" y="965.62" width="6.2" height="7.38" fill="#52a2d2" stroke="#2d6d92" stroke-width="0.9"/>
<rect x="603.28" y="963.22" width="6.2" height="9.78" fill="#52a2d2" stroke="#2d6d92" stroke-width="0.9"/>
<rect x="612.88" y="957.22" width="6.2" height="15.78" fill="#52a2d2" stroke="#2d6d92" stroke-width="0.9"/>
<rect x="622.48" y="960.22" width="6.2" height="12.78" fill="#52a2d2" stroke="#2d6d92" stroke-width="0.9"/>
<rect x="632.07" y="963.22" width="6.2" height="9.78" fill="#52a2d2" stroke="#2d6d92" stroke-width="0.9"/>
<rect x="641.67" y="968.74" width="6.2" height="4.26" fill="#52a2d2" stroke="#2d6d92" stroke-width="0.9"/>
<rect x="651.27" y="973" width="6.2" height="0.6" fill="#52a2d2" stroke="#2d6d92" stroke-width="0.9"/>
<rect x="660.87" y="973" width="6.2" height="4.74" fill="#52a2d2" stroke="#2d6d92" stroke-width="0.9"/>
<rect x="670.47" y="973" width="6.2" height="5.94" fill="#52a2d2" stroke="#2d6d92" stroke-width="0.9"/>
<rect x="680.06" y="973" width="6.2" height="5.1" fill="#52a2d2" stroke="#2d6d92" stroke-width="0.9"/>
<rect x="689.66" y="973" width="6.2" height="3.48" fill="#52a2d2" stroke="#2d6d92" stroke-width="0.9"/>
<rect x="699.26" y="973" width="6.2" height="5.94" fill="#52a2d2" stroke="#2d6d92" stroke-width="0.9"/>
<rect x="708.86" y="973" width="6.2" height="7.62" fill="#52a2d2" stroke="#2d6d92" stroke-width="0.9"/>
<rect x="718.46" y="973" width="6.2" height="8.82" fill="#52a2d2" stroke="#2d6d92" stroke-width="0.9"/>
<rect x="728.05" y="973" width="6.2" height="10.08" fill="#52a2d2" stroke="#2d6d92" stroke-width="0.9"/>
<rect x="737.65" y="973" width="6.2" height="10.08" fill="#52a2d2" stroke="#2d6d92" stroke-width="0.9"/>
<rect x="747.25" y="973" width="6.2" height="9.48" fill="#52a2d2" stroke="#2d6d92" stroke-width="0.9"/>
<rect x="756.85" y="973" width="6.2" height="5.94" fill="#52a2d2" stroke="#2d6d92" stroke-width="0.9"/>
<rect x="766.45" y="973" width="6.2" height="3.48" fill="#52a2d2" stroke="#2d6d92" stroke-width="0.9"/>
<rect x="776.04" y="969.34" width="6.2" height="3.66" fill="#52a2d2" stroke="#2d6d92" stroke-width="0.9"/>
<rect x="785.64" y="966.22" width="6.2" height="6.78" fill="#52a2d2" stroke="#2d6d92" stroke-width="0.9"/>
<rect x="795.24" y="960.88" width="6.2" height="12.12" fill="#52a2d2" stroke="#2d6d92" stroke-width="0.9"/>
<rect x="804.84" y="960.88" width="6.2" height="12.12" fill="#52a2d2" stroke="#2d6d92" stroke-width="0.9"/>
<rect x="814.44" y="955" width="6.2" height="18" fill="#52a2d2" stroke="#2d6d92" stroke-width="0.9"/>
<polyline points="16.5,986.2 20.9,985.9 30.5,985.5 40.1,985.1 49.7,984.8 59.29,984.5 68.89,984.2 78.49,983.9 88.09,983.6 97.69,983.1 107.28,982.5 116.88,981.8 126.48,981 136.08,980.2 145.68,979.7 155.27,979.4 164.87,979.3 174.47,979.6 184.07,980.1 193.67,980.6 203.26,979.8 212.86,979.2 222.46,978.7 232.06,978.3 241.66,977.9 251.25,977.5 260.85,976.2 270.45,974.8 280.05,973.4 289.65,970.2 299.24,967.1 308.84,963.8 318.44,960.9 328.04,957.5 337.64,953.1 347.23,949.5 356.83,947.7 366.43,946 376.03,944.2 385.63,940.1 395.22,926 404.82,913.7 414.42,904 424.02,896.6 433.62,893.5 443.21,892.2 452.81,894.8 462.41,901.5 472.01,908.5 481.61,918 491.2,926.6 500.8,936 510.4,946 520,951.6 529.6,957.4 539.19,963.5 548.79,969.3 558.39,972.6 567.99,976 577.59,979.3 587.18,979.3 596.78,977 606.38,974 615.98,970.2 625.58,968 635.17,966.1 644.77,965.4 654.37,964.8 663.97,965.8 673.57,966.9 683.16,968.2 692.76,969.6 702.36,971 711.96,972.7 721.56,975 731.15,977.3 740.75,980 750.35,982.7 759.95,984.2 769.55,985.6 779.14,984.2 788.74,981.6 798.34,979 807.94,976.5 817.54,972.7" fill="none" stroke="#ee2222" stroke-width="1.2" stroke-linejoin="round"/>
<polyline points="16.5,983.6 20.9,983.6 30.5,983.3 40.1,983.1 49.7,984 59.29,985.2 68.89,984 78.49,983.1 88.09,982.6 97.69,980 107.28,978 116.88,977.2 126.48,977.2 136.08,977.2 145.68,978.5 155.27,979.3 164.87,979.3 174.47,980.2 184.07,981.1 193.67,980.8 203.26,980.1 212.86,979 222.46,977.5 232.06,976 241.66,975.5 251.25,974.9 260.85,972.5 270.45,969 280.05,962 289.65,955.5 299.24,955.2 308.84,955 318.44,946 328.04,940.1 337.64,940.1 347.23,940.1 356.83,937.6 366.43,939.1 376.03,936.5 385.63,922.2 395.22,875.6 404.82,866.6 414.42,859.7 424.02,864.8 433.62,879.4 443.21,891 452.81,908.9 462.41,926.8 472.01,942.2 481.61,956.2 491.2,967.8 500.8,974.2 510.4,978 520,978 529.6,983.1 539.19,985.2 548.79,988.2 558.39,987.5 567.99,989.5 577.59,992.1 587.18,980.1 596.78,970.3 606.38,965.3 615.98,956.4 625.58,956.5 635.17,956.5 644.77,961.3 654.37,965.4 663.97,970.2 673.57,973.3 683.16,974.4 692.76,973.3 702.36,977.3 711.96,980.6 721.56,984.2 731.15,987.7 740.75,990.4 750.35,992.5 759.95,990.4 769.55,988.3 779.14,982.1 788.74,976.5 798.34,968.1 807.94,965.4 817.54,954.4" fill="none" stroke="#111" stroke-width="2" stroke-linejoin="round"/>
</g>
<path d="M17.5,853 V1019 M17,853.5 H1209" stroke="#e6e6f2" stroke-width="1"/>
<rect x="16.5" y="852.5" width="1193" height="167" fill="none" stroke="#8c8ca0" stroke-width="1"/>
<rect x="16" y="1019" width="1193" height="167" fill="#dadae8"/>
<line x1="30.5" y1="1019" x2="30.5" y2="1186" stroke="#c9c9da" stroke-width="1"/>
<line x1="78.5" y1="1019" x2="78.5" y2="1186" stroke="#c9c9da" stroke-width="1"/>
<line x1="116.5" y1="1019" x2="116.5" y2="1186" stroke="#c9c9da" stroke-width="1"/>
<line x1="164.5" y1="1019" x2="164.5" y2="1186" stroke="#b9b9cb" stroke-width="1"/>
<line x1="203.5" y1="1019" x2="203.5" y2="1186" stroke="#c9c9da" stroke-width="1"/>
<line x1="251.5" y1="1019" x2="251.5" y2="1186" stroke="#c9c9da" stroke-width="1"/>
<line x1="299.5" y1="1019" x2="299.5" y2="1186" stroke="#c9c9da" stroke-width="1"/>
<line x1="347.5" y1="1019" x2="347.5" y2="1186" stroke="#c9c9da" stroke-width="1"/>
<line x1="376.5" y1="1019" x2="376.5" y2="1186" stroke="#b9b9cb" stroke-width="1"/>
<line x1="395.5" y1="1019" x2="395.5" y2="1186" stroke="#c9c9da" stroke-width="1"/>
<line x1="443.5" y1="1019" x2="443.5" y2="1186" stroke="#c9c9da" stroke-width="1"/>
<line x1="491.5" y1="1019" x2="491.5" y2="1186" stroke="#c9c9da" stroke-width="1"/>
<line x1="539.5" y1="1019" x2="539.5" y2="1186" stroke="#c9c9da" stroke-width="1"/>
<line x1="587.5" y1="1019" x2="587.5" y2="1186" stroke="#b9b9cb" stroke-width="1"/>
<line x1="625.5" y1="1019" x2="625.5" y2="1186" stroke="#c9c9da" stroke-width="1"/>
<line x1="673.5" y1="1019" x2="673.5" y2="1186" stroke="#c9c9da" stroke-width="1"/>
<line x1="721.5" y1="1019" x2="721.5" y2="1186" stroke="#c9c9da" stroke-width="1"/>
<line x1="769.5" y1="1019" x2="769.5" y2="1186" stroke="#c9c9da" stroke-width="1"/>
<line x1="779.5" y1="1019" x2="779.5" y2="1186" stroke="#b9b9cb" stroke-width="1"/>
<line x1="817.5" y1="1019" x2="817.5" y2="1186" stroke="#c9c9da" stroke-width="1"/>
<line x1="865.5" y1="1019" x2="865.5" y2="1186" stroke="#c9c9da" stroke-width="1"/>
<line x1="913.5" y1="1019" x2="913.5" y2="1186" stroke="#c9c9da" stroke-width="1"/>
<line x1="961.5" y1="1019" x2="961.5" y2="1186" stroke="#c9c9da" stroke-width="1"/>
<line x1="999.5" y1="1019" x2="999.5" y2="1186" stroke="#b9b9cb" stroke-width="1"/>
<line x1="1009.5" y1="1019" x2="1009.5" y2="1186" stroke="#c9c9da" stroke-width="1"/>
<line x1="1057.5" y1="1019" x2="1057.5" y2="1186" stroke="#c9c9da" stroke-width="1"/>
<line x1="1105.5" y1="1019" x2="1105.5" y2="1186" stroke="#c9c9da" stroke-width="1"/>
<line x1="1153.5" y1="1019" x2="1153.5" y2="1186" stroke="#c9c9da" stroke-width="1"/>
<line x1="1191.5" y1="1019" x2="1191.5" y2="1186" stroke="#b9b9cb" stroke-width="1"/>
<line x1="16" y1="1180.5" x2="1209" y2="1180.5" stroke="#c8c8d6" stroke-width="1"/>
<line x1="16" y1="1164.5" x2="1209" y2="1164.5" stroke="#c8c8d6" stroke-width="1"/>
<line x1="16" y1="1149.5" x2="1209" y2="1149.5" stroke="#c8c8d6" stroke-width="1"/>
<line x1="16" y1="1134.5" x2="1209" y2="1134.5" stroke="#c8c8d6" stroke-width="1"/>
<line x1="16" y1="1118.5" x2="1209" y2="1118.5" stroke="#c8c8d6" stroke-width="1"/>
<line x1="16" y1="1103.5" x2="1209" y2="1103.5" stroke="#c8c8d6" stroke-width="1"/>
<line x1="16" y1="1088.5" x2="1209" y2="1088.5" stroke="#c8c8d6" stroke-width="1"/>
<line x1="16" y1="1072.5" x2="1209" y2="1072.5" stroke="#c8c8d6" stroke-width="1"/>
<line x1="16" y1="1057.5" x2="1209" y2="1057.5" stroke="#c8c8d6" stroke-width="1"/>
<line x1="16" y1="1042.5" x2="1209" y2="1042.5" stroke="#c8c8d6" stroke-width="1"/>
<line x1="16" y1="1026.5" x2="1209" y2="1026.5" stroke="#c8c8d6" stroke-width="1"/>
<line x1="16" y1="1057.5" x2="1209" y2="1057.5" stroke="#4e544e" stroke-width="1.2"/>
<line x1="16" y1="1149.5" x2="1209" y2="1149.5" stroke="#4e544e" stroke-width="1.2"/>
<line x1="17" y1="1103.5" x2="1209" y2="1103.5" stroke="#4e544e" stroke-width="1.5" stroke-dasharray="6.5,3.7,1.2,3.7" stroke-dashoffset="4.4"/>
<g clip-path="url(#cs)">
<polyline points="16.5,1120.5 20.9,1126 30.5,1131.5 40.1,1133.3 49.7,1132.8 59.29,1138.4 68.89,1146.8 78.49,1153.2 88.09,1151.5 97.69,1143 107.28,1133.3 116.88,1115.6 126.48,1103.3 136.08,1097.4 145.68,1111 155.27,1125.1 164.87,1139.2 174.47,1146.1 184.07,1153.2 193.67,1155.3 203.26,1152.5 212.86,1143.5 222.46,1134 232.06,1123.8 241.66,1115.4 251.25,1107.7 260.85,1098.2 270.45,1077.7 280.05,1062.4 289.65,1049 299.24,1049 308.84,1056 318.44,1063.1 328.04,1063.1 337.64,1057.2 347.23,1057.2 356.83,1062.4 366.43,1068.3 376.03,1066.2 385.63,1065.4 395.22,1066.7 404.82,1082.8 414.42,1099.5 424.02,1120 433.62,1136.6 443.21,1148.1 452.81,1157.1 462.41,1164.8 472.01,1170.7 481.61,1175 491.2,1178.3 500.8,1178.8 510.4,1177.6 520,1175 529.6,1172.4 539.19,1169.9 548.79,1167.3 558.39,1163.5 567.99,1158.9 577.59,1155.3 587.18,1144.3 596.78,1125.1 606.38,1094.2 615.98,1075.2 625.58,1070.1 635.17,1076.2 644.77,1093 654.37,1109.6 663.97,1126.3 673.57,1136 683.16,1140.8 692.76,1137.7 702.36,1135.2 711.96,1138.1 721.56,1149.2 731.15,1161.6 740.75,1173.1 750.35,1175.2 759.95,1168.9 769.55,1159.1 779.14,1139.8 788.74,1116.9 798.34,1087.8 807.94,1069.5 817.54,1053.5" fill="none" stroke="#ee2222" stroke-width="1.2" stroke-linejoin="round"/>
<polyline points="16.5,1130.2 20.9,1136.1 30.5,1134 40.1,1130.7 49.7,1132.8 59.29,1150.2 68.89,1157.1 78.49,1150.7 88.09,1144.3 97.69,1133.3 107.28,1121.2 116.88,1094.4 126.48,1094.4 136.08,1103.3 145.68,1128.9 155.27,1139.2 164.87,1147.6 174.47,1152.7 184.07,1160.4 193.67,1153.2 203.26,1144.3 212.86,1134 222.46,1124.6 232.06,1110.2 241.66,1112.3 251.25,1098.2 260.85,1083.6 270.45,1054.7 280.05,1049.6 289.65,1044.4 299.24,1055.5 308.84,1069.3 318.44,1066.2 328.04,1054.2 337.64,1052.6 347.23,1064.9 356.83,1070 366.43,1070 376.03,1059 385.63,1066.2 395.22,1073.9 404.82,1104.6 414.42,1122.5 424.02,1137.9 433.62,1148.1 443.21,1158.4 452.81,1165.5 462.41,1171.2 472.01,1176.3 481.61,1178.8 491.2,1179.4 500.8,1178.3 510.4,1176.3 520,1173.7 529.6,1171.2 539.19,1167.3 548.79,1167.3 558.39,1157.1 567.99,1154.5 577.59,1153.8 587.18,1125.1 596.78,1093.1 606.38,1066.1 615.98,1065.5 625.58,1077.8 635.17,1084.7 644.77,1111.1 654.37,1125.2 663.97,1139.8 673.57,1142.9 683.16,1140.8 692.76,1130 702.36,1134.6 711.96,1148.1 721.56,1167.9 731.15,1175.2 740.75,1176.2 750.35,1174.1 759.95,1158.5 769.55,1145 779.14,1111.7 788.74,1092 798.34,1058.3 807.94,1058.3 817.54,1045.2" fill="none" stroke="#111" stroke-width="2" stroke-linejoin="round"/>
</g>
<path d="M17.5,1020 V1186 M17,1020.5 H1209" stroke="#e6e6f2" stroke-width="1"/>
<rect x="16.5" y="1019.5" width="1193" height="167" fill="none" stroke="#8c8ca0" stroke-width="1"/>
<line x1="1019" y1="28" x2="1019" y2="1186" stroke="#000" stroke-width="2" stroke-dasharray="15.5,2.5,1.5,2.5,1.5,2.5"/>
<rect x="979.3" y="326.4" width="91.3" height="54.2" fill="#b0b0b8"/>
<rect x="977.8" y="324.9" width="90.3" height="53.2" fill="#fff" stroke="#3a6e8c" stroke-width="1"/>
<text x="980.6" y="345.7" font-size="20" fill="#000" textLength="66" lengthAdjust="spacingAndGlyphs">Nov`5th</text>
<text x="981.6" y="369.7" font-size="20" fill="#000" textLength="72" lengthAdjust="spacingAndGlyphs">Election!</text>
<text x="30.5" y="681.8" font-size="10" fill="#000" text-anchor="middle" stroke="#000" stroke-width="0.3">10</text>
<text x="78.49" y="681.8" font-size="10" fill="#000" text-anchor="middle" stroke="#000" stroke-width="0.3">17</text>
<text x="116.88" y="681.8" font-size="10" fill="#000" text-anchor="middle" stroke="#000" stroke-width="0.3">24</text>
<text x="164.87" y="681.8" font-size="10.5" fill="#000" font-weight="bold" text-anchor="middle">Jul</text>
<text x="203.26" y="681.8" font-size="10" fill="#000" text-anchor="middle" stroke="#000" stroke-width="0.3">8</text>
<text x="251.25" y="681.8" font-size="10" fill="#000" text-anchor="middle" stroke="#000" stroke-width="0.3">15</text>
<text x="299.24" y="681.8" font-size="10" fill="#000" text-anchor="middle" stroke="#000" stroke-width="0.3">22</text>
<text x="347.23" y="681.8" font-size="10" fill="#000" text-anchor="middle" stroke="#000" stroke-width="0.3">29</text>
<text x="375.03" y="681.8" font-size="10.5" fill="#000" font-weight="bold" text-anchor="middle">Aug</text>
<text x="395.22" y="681.8" font-size="10" fill="#000" text-anchor="middle" stroke="#000" stroke-width="0.3">5</text>
<text x="443.21" y="681.8" font-size="10" fill="#000" text-anchor="middle" stroke="#000" stroke-width="0.3">12</text>
<text x="491.2" y="681.8" font-size="10" fill="#000" text-anchor="middle" stroke="#000" stroke-width="0.3">19</text>
<text x="539.19" y="681.8" font-size="10" fill="#000" text-anchor="middle" stroke="#000" stroke-width="0.3">26</text>
<text x="587.18" y="681.8" font-size="10.5" fill="#000" font-weight="bold" text-anchor="middle">Sep</text>
<text x="625.58" y="681.8" font-size="10" fill="#000" text-anchor="middle" stroke="#000" stroke-width="0.3">9</text>
<text x="673.57" y="681.8" font-size="10" fill="#000" text-anchor="middle" stroke="#000" stroke-width="0.3">16</text>
<text x="721.56" y="681.8" font-size="10" fill="#000" text-anchor="middle" stroke="#000" stroke-width="0.3">23</text>
<text x="779.14" y="681.8" font-size="10.5" fill="#000" font-weight="bold" text-anchor="middle">Oct</text>
<text x="817.54" y="681.8" font-size="10" fill="#000" text-anchor="middle" stroke="#000" stroke-width="0.3">7</text>
<text x="865.53" y="681.8" font-size="10" fill="#000" text-anchor="middle" stroke="#000" stroke-width="0.3">14</text>
<text x="913.52" y="681.8" font-size="10" fill="#000" text-anchor="middle" stroke="#000" stroke-width="0.3">21</text>
<text x="961.51" y="681.8" font-size="10" fill="#000" text-anchor="middle" stroke="#000" stroke-width="0.3">28</text>
<text x="999.9" y="681.8" font-size="10.5" fill="#000" font-weight="bold" text-anchor="middle">Nov</text>
<text x="1057.49" y="681.8" font-size="10" fill="#000" text-anchor="middle" stroke="#000" stroke-width="0.3">11</text>
<text x="1105.48" y="681.8" font-size="10" fill="#000" text-anchor="middle" stroke="#000" stroke-width="0.3">18</text>
<text x="1153.47" y="681.8" font-size="10" fill="#000" text-anchor="middle" stroke="#000" stroke-width="0.3">25</text>
<text x="1191.86" y="681.8" font-size="10.5" fill="#000" font-weight="bold" text-anchor="middle">Dec</text>
<text x="30.5" y="1196.2" font-size="10" fill="#000" text-anchor="middle" stroke="#000" stroke-width="0.3">10</text>
<text x="78.49" y="1196.2" font-size="10" fill="#000" text-anchor="middle" stroke="#000" stroke-width="0.3">17</text>
<text x="116.88" y="1196.2" font-size="10" fill="#000" text-anchor="middle" stroke="#000" stroke-width="0.3">24</text>
<text x="164.87" y="1196.2" font-size="10.5" fill="#000" font-weight="bold" text-anchor="middle">Jul</text>
<text x="203.26" y="1196.2" font-size="10" fill="#000" text-anchor="middle" stroke="#000" stroke-width="0.3">8</text>
<text x="251.25" y="1196.2" font-size="10" fill="#000" text-anchor="middle" stroke="#000" stroke-width="0.3">15</text>
<text x="299.24" y="1196.2" font-size="10" fill="#000" text-anchor="middle" stroke="#000" stroke-width="0.3">22</text>
<text x="347.23" y="1196.2" font-size="10" fill="#000" text-anchor="middle" stroke="#000" stroke-width="0.3">29</text>
<text x="375.03" y="1196.2" font-size="10.5" fill="#000" font-weight="bold" text-anchor="middle">Aug</text>
<text x="395.22" y="1196.2" font-size="10" fill="#000" text-anchor="middle" stroke="#000" stroke-width="0.3">5</text>
<text x="443.21" y="1196.2" font-size="10" fill="#000" text-anchor="middle" stroke="#000" stroke-width="0.3">12</text>
<text x="491.2" y="1196.2" font-size="10" fill="#000" text-anchor="middle" stroke="#000" stroke-width="0.3">19</text>
<text x="539.19" y="1196.2" font-size="10" fill="#000" text-anchor="middle" stroke="#000" stroke-width="0.3">26</text>
<text x="587.18" y="1196.2" font-size="10.5" fill="#000" font-weight="bold" text-anchor="middle">Sep</text>
<text x="625.58" y="1196.2" font-size="10" fill="#000" text-anchor="middle" stroke="#000" stroke-width="0.3">9</text>
<text x="673.57" y="1196.2" font-size="10" fill="#000" text-anchor="middle" stroke="#000" stroke-width="0.3">16</text>
<text x="721.56" y="1196.2" font-size="10" fill="#000" text-anchor="middle" stroke="#000" stroke-width="0.3">23</text>
<text x="779.14" y="1196.2" font-size="10.5" fill="#000" font-weight="bold" text-anchor="middle">Oct</text>
<text x="817.54" y="1196.2" font-size="10" fill="#000" text-anchor="middle" stroke="#000" stroke-width="0.3">7</text>
<text x="865.53" y="1196.2" font-size="10" fill="#000" text-anchor="middle" stroke="#000" stroke-width="0.3">14</text>
<text x="913.52" y="1196.2" font-size="10" fill="#000" text-anchor="middle" stroke="#000" stroke-width="0.3">21</text>
<text x="961.51" y="1196.2" font-size="10" fill="#000" text-anchor="middle" stroke="#000" stroke-width="0.3">28</text>
<text x="999.9" y="1196.2" font-size="10.5" fill="#000" font-weight="bold" text-anchor="middle">Nov</text>
<text x="1057.49" y="1196.2" font-size="10" fill="#000" text-anchor="middle" stroke="#000" stroke-width="0.3">11</text>
<text x="1105.48" y="1196.2" font-size="10" fill="#000" text-anchor="middle" stroke="#000" stroke-width="0.3">18</text>
<text x="1153.47" y="1196.2" font-size="10" fill="#000" text-anchor="middle" stroke="#000" stroke-width="0.3">25</text>
<text x="1191.86" y="1196.2" font-size="10.5" fill="#000" font-weight="bold" text-anchor="middle">Dec</text>
<path d="M20.5,672 v2 M20.5,683 v2 M20.5,1186 v2 M30.5,672 v2 M30.5,683 v2 M30.5,1186 v2 M40.5,672 v2 M40.5,683 v2 M40.5,1186 v2 M49.5,672 v2 M49.5,683 v2 M49.5,1186 v2 M59.5,672 v2 M59.5,683 v2 M59.5,1186 v2 M68.5,672 v2 M68.5,683 v2 M68.5,1186 v2 M78.5,672 v2 M78.5,683 v2 M78.5,1186 v2 M88.5,672 v2 M88.5,683 v2 M88.5,1186 v2 M97.5,672 v2 M97.5,683 v2 M97.5,1186 v2 M107.5,672 v2 M107.5,683 v2 M107.5,1186 v2 M116.5,672 v2 M116.5,683 v2 M116.5,1186 v2 M126.5,672 v2 M126.5,683 v2 M126.5,1186 v2 M136.5,672 v2 M136.5,683 v2 M136.5,1186 v2 M145.5,672 v2 M145.5,683 v2 M145.5,1186 v2 M155.5,672 v2 M155.5,683 v2 M155.5,1186 v2 M164.5,672 v2 M164.5,683 v2 M164.5,1186 v2 M174.5,672 v2 M174.5,683 v2 M174.5,1186 v2 M184.5,672 v2 M184.5,683 v2 M184.5,1186 v2 M193.5,672 v2 M193.5,683 v2 M193.5,1186 v2 M203.5,672 v2 M203.5,683 v2 M203.5,1186 v2 M212.5,672 v2 M212.5,683 v2 M212.5,1186 v2 M222.5,672 v2 M222.5,683 v2 M222.5,1186 v2 M232.5,672 v2 M232.5,683 v2 M232.5,1186 v2 M241.5,672 v2 M241.5,683 v2 M241.5,1186 v2 M251.5,672 v2 M251.5,683 v2 M251.5,1186 v2 M260.5,672 v2 M260.5,683 v2 M260.5,1186 v2 M270.5,672 v2 M270.5,683 v2 M270.5,1186 v2 M280.5,672 v2 M280.5,683 v2 M280.5,1186 v2 M289.5,672 v2 M289.5,683 v2 M289.5,1186 v2 M299.5,672 v2 M299.5,683 v2 M299.5,1186 v2 M308.5,672 v2 M308.5,683 v2 M308.5,1186 v2 M318.5,672 v2 M318.5,683 v2 M318.5,1186 v2 M328.5,672 v2 M328.5,683 v2 M328.5,1186 v2 M337.5,672 v2 M337.5,683 v2 M337.5,1186 v2 M347.5,672 v2 M347.5,683 v2 M347.5,1186 v2 M356.5,672 v2 M356.5,683 v2 M356.5,1186 v2 M366.5,672 v2 M366.5,683 v2 M366.5,1186 v2 M376.5,672 v2 M376.5,683 v2 M376.5,1186 v2 M385.5,672 v2 M385.5,683 v2 M385.5,1186 v2 M395.5,672 v2 M395.5,683 v2 M395.5,1186 v2 M404.5,672 v2 M404.5,683 v2 M404.5,1186 v2 M414.5,672 v2 M414.5,683 v2 M414.5,1186 v2 M424.5,672 v2 M424.5,683 v2 M424.5,1186 v2 M433.5,672 v2 M433.5,683 v2 M433.5,1186 v2 M443.5,672 v2 M443.5,683 v2 M443.5,1186 v2 M452.5,672 v2 M452.5,683 v2 M452.5,1186 v2 M462.5,672 v2 M462.5,683 v2 M462.5,1186 v2 M472.5,672 v2 M472.5,683 v2 M472.5,1186 v2 M481.5,672 v2 M481.5,683 v2 M481.5,1186 v2 M491.5,672 v2 M491.5,683 v2 M491.5,1186 v2 M500.5,672 v2 M500.5,683 v2 M500.5,1186 v2 M510.5,672 v2 M510.5,683 v2 M510.5,1186 v2 M519.5,672 v2 M519.5,683 v2 M519.5,1186 v2 M529.5,672 v2 M529.5,683 v2 M529.5,1186 v2 M539.5,672 v2 M539.5,683 v2 M539.5,1186 v2 M548.5,672 v2 M548.5,683 v2 M548.5,1186 v2 M558.5,672 v2 M558.5,683 v2 M558.5,1186 v2 M567.5,672 v2 M567.5,683 v2 M567.5,1186 v2 M577.5,672 v2 M577.5,683 v2 M577.5,1186 v2 M587.5,672 v2 M587.5,683 v2 M587.5,1186 v2 M596.5,672 v2 M596.5,683 v2 M596.5,1186 v2 M606.5,672 v2 M606.5,683 v2 M606.5,1186 v2 M615.5,672 v2 M615.5,683 v2 M615.5,1186 v2 M625.5,672 v2 M625.5,683 v2 M625.5,1186 v2 M635.5,672 v2 M635.5,683 v2 M635.5,1186 v2 M644.5,672 v2 M644.5,683 v2 M644.5,1186 v2 M654.5,672 v2 M654.5,683 v2 M654.5,1186 v2 M663.5,672 v2 M663.5,683 v2 M663.5,1186 v2 M673.5,672 v2 M673.5,683 v2 M673.5,1186 v2 M683.5,672 v2 M683.5,683 v2 M683.5,1186 v2 M692.5,672 v2 M692.5,683 v2 M692.5,1186 v2 M702.5,672 v2 M702.5,683 v2 M702.5,1186 v2 M711.5,672 v2 M711.5,683 v2 M711.5,1186 v2 M721.5,672 v2 M721.5,683 v2 M721.5,1186 v2 M731.5,672 v2 M731.5,683 v2 M731.5,1186 v2 M740.5,672 v2 M740.5,683 v2 M740.5,1186 v2 M750.5,672 v2 M750.5,683 v2 M750.5,1186 v2 M759.5,672 v2 M759.5,683 v2 M759.5,1186 v2 M769.5,672 v2 M769.5,683 v2 M769.5,1186 v2 M779.5,672 v2 M779.5,683 v2 M779.5,1186 v2 M788.5,672 v2 M788.5,683 v2 M788.5,1186 v2 M798.5,672 v2 M798.5,683 v2 M798.5,1186 v2 M807.5,672 v2 M807.5,683 v2 M807.5,1186 v2 M817.5,672 v2 M817.5,683 v2 M817.5,1186 v2 M827.5,672 v2 M827.5,683 v2 M827.5,1186 v2 M836.5,672 v2 M836.5,683 v2 M836.5,1186 v2 M846.5,672 v2 M846.5,683 v2 M846.5,1186 v2 M855.5,672 v2 M855.5,683 v2 M855.5,1186 v2 M865.5,672 v2 M865.5,683 v2 M865.5,1186 v2 M875.5,672 v2 M875.5,683 v2 M875.5,1186 v2 M884.5,672 v2 M884.5,683 v2 M884.5,1186 v2 M894.5,672 v2 M894.5,683 v2 M894.5,1186 v2 M903.5,672 v2 M903.5,683 v2 M903.5,1186 v2 M913.5,672 v2 M913.5,683 v2 M913.5,1186 v2 M923.5,672 v2 M923.5,683 v2 M923.5,1186 v2 M932.5,672 v2 M932.5,683 v2 M932.5,1186 v2 M942.5,672 v2 M942.5,683 v2 M942.5,1186 v2 M951.5,672 v2 M951.5,683 v2 M951.5,1186 v2 M961.5,672 v2 M961.5,683 v2 M961.5,1186 v2 M971.5,672 v2 M971.5,683 v2 M971.5,1186 v2 M980.5,672 v2 M980.5,683 v2 M980.5,1186 v2 M990.5,672 v2 M990.5,683 v2 M990.5,1186 v2 M999.5,672 v2 M999.5,683 v2 M999.5,1186 v2 M1009.5,672 v2 M1009.5,683 v2 M1009.5,1186 v2 M1019.5,672 v2 M1019.5,683 v2 M1019.5,1186 v2 M1028.5,672 v2 M1028.5,683 v2 M1028.5,1186 v2 M1038.5,672 v2 M1038.5,683 v2 M1038.5,1186 v2 M1047.5,672 v2 M1047.5,683 v2 M1047.5,1186 v2 M1057.5,672 v2 M1057.5,683 v2 M1057.5,1186 v2 M1067.5,672 v2 M1067.5,683 v2 M1067.5,1186 v2 M1076.5,672 v2 M1076.5,683 v2 M1076.5,1186 v2 M1086.5,672 v2 M1086.5,683 v2 M1086.5,1186 v2 M1095.5,672 v2 M1095.5,683 v2 M1095.5,1186 v2 M1105.5,672 v2 M1105.5,683 v2 M1105.5,1186 v2 M1115.5,672 v2 M1115.5,683 v2 M1115.5,1186 v2 M1124.5,672 v2 M1124.5,683 v2 M1124.5,1186 v2 M1134.5,672 v2 M1134.5,683 v2 M1134.5,1186 v2 M1143.5,672 v2 M1143.5,683 v2 M1143.5,1186 v2 M1153.5,672 v2 M1153.5,683 v2 M1153.5,1186 v2 M1163.5,672 v2 M1163.5,683 v2 M1163.5,1186 v2 M1172.5,672 v2 M1172.5,683 v2 M1172.5,1186 v2 M1182.5,672 v2 M1182.5,683 v2 M1182.5,1186 v2 M1191.5,672 v2 M1191.5,683 v2 M1191.5,1186 v2 M1201.5,672 v2 M1201.5,683 v2 M1201.5,1186 v2" stroke="#777" stroke-width="1"/>
<path d="M1210,188.5 h1.5 M1210,181.5 h1.5 M1210,173.5 h1.5 M1210,165.5 h1.5 M1210,158.5 h1.5 M1210,150.5 h1.5 M1210,142.5 h1.5 M1210,135.5 h1.5 M1210,127.5 h1.5 M1210,119.5 h1.5 M1210,112.5 h1.5 M1210,104.5 h1.5 M1210,96.5 h1.5 M1210,89.5 h1.5 M1210,81.5 h1.5 M1210,73.5 h1.5 M1210,66.5 h1.5 M1210,58.5 h1.5 M1210,50.5 h1.5 M1210,43.5 h1.5 M1210,35.5 h1.5 M1210,173.5 h2.5 M1210,142.5 h2.5 M1210,112.5 h2.5 M1210,81.5 h2.5 M1210,50.5 h2.5" stroke="#8088a0" stroke-width="1"/>
<text x="1213" y="54.4" font-size="10" fill="#000" stroke="#000" stroke-width="0.3">90</text>
<text x="1213" y="84.4" font-size="10" fill="#000" stroke="#000" stroke-width="0.3">70</text>
<text x="1213" y="115.4" font-size="10" fill="#000" stroke="#000" stroke-width="0.3">50</text>
<text x="1213" y="146.4" font-size="10" fill="#000" stroke="#000" stroke-width="0.3">30</text>
<text x="1213" y="176.4" font-size="10" fill="#000" stroke="#000" stroke-width="0.3">10</text>
<path d="M1210,667.5 h1.5 M1210,655.5 h1.5 M1210,644.5 h1.5 M1210,633.5 h1.5 M1210,623.5 h1.5 M1210,613.5 h1.5 M1210,604.5 h1.5 M1210,595.5 h1.5 M1210,586.5 h1.5 M1210,577.5 h1.5 M1210,569.5 h1.5 M1210,561.5 h1.5 M1210,554.5 h1.5 M1210,546.5 h1.5 M1210,539.5 h1.5 M1210,532.5 h1.5 M1210,525.5 h1.5 M1210,519.5 h1.5 M1210,512.5 h1.5 M1210,506.5 h1.5 M1210,500.5 h1.5 M1210,494.5 h1.5 M1210,488.5 h1.5 M1210,483.5 h1.5 M1210,477.5 h1.5 M1210,472.5 h1.5 M1210,467.5 h1.5 M1210,461.5 h1.5 M1210,456.5 h1.5 M1210,451.5 h1.5 M1210,447.5 h1.5 M1210,442.5 h1.5 M1210,437.5 h1.5 M1210,433.5 h1.5 M1210,428.5 h1.5 M1210,424.5 h1.5 M1210,419.5 h1.5 M1210,415.5 h1.5 M1210,411.5 h1.5 M1210,407.5 h1.5 M1210,403.5 h1.5 M1210,399.5 h1.5 M1210,395.5 h1.5 M1210,391.5 h1.5 M1210,387.5 h1.5 M1210,384.5 h1.5 M1210,380.5 h1.5 M1210,376.5 h1.5 M1210,373.5 h1.5 M1210,369.5 h1.5 M1210,366.5 h1.5 M1210,362.5 h1.5 M1210,359.5 h1.5 M1210,356.5 h1.5 M1210,353.5 h1.5 M1210,349.5 h1.5 M1210,346.5 h1.5 M1210,343.5 h1.5 M1210,340.5 h1.5 M1210,337.5 h1.5 M1210,334.5 h1.5 M1210,331.5 h1.5 M1210,328.5 h1.5 M1210,325.5 h1.5 M1210,322.5 h1.5 M1210,319.5 h1.5 M1210,316.5 h1.5 M1210,314.5 h1.5 M1210,311.5 h1.5 M1210,308.5 h1.5 M1210,306.5 h1.5 M1210,303.5 h1.5 M1210,300.5 h1.5 M1210,298.5 h1.5 M1210,295.5 h1.5 M1210,293.5 h1.5 M1210,290.5 h1.5 M1210,288.5 h1.5 M1210,285.5 h1.5 M1210,283.5 h1.5 M1210,280.5 h1.5 M1210,278.5 h1.5 M1210,276.5 h1.5 M1210,273.5 h1.5 M1210,271.5 h1.5 M1210,269.5 h1.5 M1210,266.5 h1.5 M1210,264.5 h1.5 M1210,262.5 h1.5 M1210,260.5 h1.5 M1210,257.5 h1.5 M1210,255.5 h1.5 M1210,253.5 h1.5 M1210,251.5 h1.5 M1210,249.5 h1.5 M1210,247.5 h1.5 M1210,245.5 h1.5 M1210,243.5 h1.5 M1210,241.5 h1.5 M1210,239.5 h1.5 M1210,237.5 h1.5 M1210,235.5 h1.5 M1210,233.5 h1.5 M1210,231.5 h1.5 M1210,229.5 h1.5 M1210,227.5 h1.5 M1210,225.5 h1.5 M1210,223.5 h1.5 M1210,221.5 h1.5 M1210,219.5 h1.5 M1210,217.5 h1.5 M1210,215.5 h1.5 M1210,214.5 h1.5 M1210,212.5 h1.5 M1210,210.5 h1.5 M1210,208.5 h1.5 M1210,206.5 h1.5 M1210,666.5 h2.5 M1210,613.5 h2.5 M1210,570.5 h2.5 M1210,532.5 h2.5 M1210,500.5 h2.5 M1210,472.5 h2.5 M1210,447.5 h2.5 M1210,423.5 h2.5 M1210,403.5 h2.5 M1210,384.5 h2.5 M1210,366.5 h2.5 M1210,349.5 h2.5 M1210,334.5 h2.5 M1210,319.5 h2.5 M1210,306.5 h2.5 M1210,293.5 h2.5 M1210,280.5 h2.5 M1210,269.5 h2.5 M1210,257.5 h2.5 M1210,247.5 h2.5 M1210,236.5 h2.5 M1210,227.5 h2.5 M1210,217.5 h2.5 M1210,208.5 h2.5" stroke="#8088a0" stroke-width="1"/>
<text x="1212.8" y="669.4" font-size="10" fill="#000" stroke="#000" stroke-width="0.3">10.0</text>
<text x="1212.8" y="616.4" font-size="10" fill="#000" stroke="#000" stroke-width="0.3">12.5</text>
<text x="1212.8" y="573.4" font-size="10" fill="#000" stroke="#000" stroke-width="0.3">15.0</text>
<text x="1212.8" y="503.4" font-size="10" fill="#000" stroke="#000" stroke-width="0.3">20.0</text>
<text x="1212.8" y="450.4" font-size="10" fill="#000" stroke="#000" stroke-width="0.3">25.0</text>
<text x="1212.8" y="426.4" font-size="10" fill="#000" stroke="#000" stroke-width="0.3">27.5</text>
<text x="1212.8" y="406.4" font-size="10" fill="#000" stroke="#000" stroke-width="0.3">30.0</text>
<text x="1212.8" y="387.4" font-size="10" fill="#000" stroke="#000" stroke-width="0.3">32.5</text>
<text x="1212.8" y="369.4" font-size="10" fill="#000" stroke="#000" stroke-width="0.3">35.0</text>
<text x="1212.8" y="352.4" font-size="10" fill="#000" stroke="#000" stroke-width="0.3">37.5</text>
<text x="1212.8" y="337.4" font-size="10" fill="#000" stroke="#000" stroke-width="0.3">40.0</text>
<text x="1212.8" y="322.4" font-size="10" fill="#000" stroke="#000" stroke-width="0.3">42.5</text>
<text x="1212.8" y="309.4" font-size="10" fill="#000" stroke="#000" stroke-width="0.3">45.0</text>
<text x="1212.8" y="296.4" font-size="10" fill="#000" stroke="#000" stroke-width="0.3">47.5</text>
<text x="1212.8" y="283.4" font-size="10" fill="#000" stroke="#000" stroke-width="0.3">50.0</text>
<text x="1212.8" y="272.4" font-size="10" fill="#000" stroke="#000" stroke-width="0.3">52.5</text>
<text x="1212.8" y="260.4" font-size="10" fill="#000" stroke="#000" stroke-width="0.3">55.0</text>
<text x="1212.8" y="250.4" font-size="10" fill="#000" stroke="#000" stroke-width="0.3">57.5</text>
<text x="1212.8" y="239.4" font-size="10" fill="#000" stroke="#000" stroke-width="0.3">60.0</text>
<text x="1212.8" y="230.4" font-size="10" fill="#000" stroke="#000" stroke-width="0.3">62.5</text>
<text x="1212.8" y="220.4" font-size="10" fill="#000" stroke="#000" stroke-width="0.3">65.0</text>
<text x="1212.8" y="211.4" font-size="10" fill="#000" stroke="#000" stroke-width="0.3">67.5</text>
<path d="M1210,854.5 h1.5 M1210,849.5 h1.5 M1210,844.5 h1.5 M1210,839.5 h1.5 M1210,834.5 h1.5 M1210,829.5 h1.5 M1210,824.5 h1.5 M1210,819.5 h1.5 M1210,814.5 h1.5 M1210,809.5 h1.5 M1210,804.5 h1.5 M1210,799.5 h1.5 M1210,794.5 h1.5 M1210,789.5 h1.5 M1210,784.5 h1.5 M1210,779.5 h1.5 M1210,774.5 h1.5 M1210,769.5 h1.5 M1210,764.5 h1.5 M1210,759.5 h1.5 M1210,754.5 h1.5 M1210,749.5 h1.5 M1210,744.5 h1.5 M1210,739.5 h1.5 M1210,734.5 h1.5 M1210,729.5 h1.5 M1210,724.5 h1.5 M1210,719.5 h1.5 M1210,714.5 h1.5 M1210,709.5 h1.5 M1210,704.5 h1.5 M1210,699.5 h1.5 M1210,694.5 h1.5 M1210,689.5 h1.5 M1210,854.5 h2.5 M1210,829.5 h2.5 M1210,804.5 h2.5 M1210,779.5 h2.5 M1210,754.5 h2.5 M1210,729.5 h2.5 M1210,704.5 h2.5" stroke="#8088a0" stroke-width="1"/>
<text x="1230" y="707.4" font-size="10" fill="#000" text-anchor="end" stroke="#000" stroke-width="0.3">1.5</text>
<text x="1230" y="732.4" font-size="10" fill="#000" text-anchor="end" stroke="#000" stroke-width="0.3">1.0</text>
<text x="1230" y="757.4" font-size="10" fill="#000" text-anchor="end" stroke="#000" stroke-width="0.3">0.5</text>
<text x="1230" y="782.4" font-size="10" fill="#000" text-anchor="end" stroke="#000" stroke-width="0.3">0.0</text>
<text x="1230" y="807.4" font-size="10" fill="#000" text-anchor="end" stroke="#000" stroke-width="0.3">-0.5</text>
<text x="1230" y="832.4" font-size="10" fill="#000" text-anchor="end" stroke="#000" stroke-width="0.3">-1.0</text>
<path d="M1210,1003.5 h2.5 M1210,988.5 h2.5 M1210,973.5 h2.5 M1210,958.5 h2.5 M1210,943.5 h2.5 M1210,928.5 h2.5 M1210,913.5 h2.5 M1210,898.5 h2.5 M1210,883.5 h2.5 M1210,868.5 h2.5" stroke="#8088a0" stroke-width="1"/>
<text x="1230" y="870.9" font-size="10" fill="#000" text-anchor="end" stroke="#000" stroke-width="0.3">3.5</text>
<text x="1230" y="885.9" font-size="10" fill="#000" text-anchor="end" stroke="#000" stroke-width="0.3">3.0</text>
<text x="1230" y="900.9" font-size="10" fill="#000" text-anchor="end" stroke="#000" stroke-width="0.3">2.5</text>
<text x="1230" y="915.9" font-size="10" fill="#000" text-anchor="end" stroke="#000" stroke-width="0.3">2.0</text>
<text x="1230" y="930.9" font-size="10" fill="#000" text-anchor="end" stroke="#000" stroke-width="0.3">1.5</text>
<text x="1230" y="945.9" font-size="10" fill="#000" text-anchor="end" stroke="#000" stroke-width="0.3">1.0</text>
<text x="1230" y="960.9" font-size="10" fill="#000" text-anchor="end" stroke="#000" stroke-width="0.3">0.5</text>
<text x="1230" y="975.9" font-size="10" fill="#000" text-anchor="end" stroke="#000" stroke-width="0.3">0.0</text>
<text x="1230" y="990.9" font-size="10" fill="#000" text-anchor="end" stroke="#000" stroke-width="0.3">-0.5</text>
<text x="1230" y="1005.9" font-size="10" fill="#000" text-anchor="end" stroke="#000" stroke-width="0.3">-1.0</text>
<path d="M1210,1180.5 h1.5 M1210,1172.5 h1.5 M1210,1164.5 h1.5 M1210,1157.5 h1.5 M1210,1149.5 h1.5 M1210,1141.5 h1.5 M1210,1134.5 h1.5 M1210,1126.5 h1.5 M1210,1118.5 h1.5 M1210,1111.5 h1.5 M1210,1103.5 h1.5 M1210,1095.5 h1.5 M1210,1088.5 h1.5 M1210,1080.5 h1.5 M1210,1072.5 h1.5 M1210,1065.5 h1.5 M1210,1057.5 h1.5 M1210,1049.5 h1.5 M1210,1042.5 h1.5 M1210,1034.5 h1.5 M1210,1026.5 h1.5 M1210,1149.5 h2.5 M1210,1103.5 h2.5 M1210,1057.5 h2.5" stroke="#8088a0" stroke-width="1"/>
<text x="1212.4" y="1060.31" font-size="10" fill="#000" stroke="#000" stroke-width="0.3">80</text>
<text x="1212.4" y="1106.3" font-size="10" fill="#000" stroke="#000" stroke-width="0.3">50</text>
<text x="1212.4" y="1152.29" font-size="10" fill="#000" stroke="#000" stroke-width="0.3">20</text>
<path d="M1207.3,90.5 L1211.3,85.4 L1240.7,85.4 L1240.7,95.6 L1211.3,95.6 Z" fill="#fff" stroke="#000" stroke-width="1.1"/>
<text x="1212.3" y="94" font-size="10" fill="#000" textLength="26" lengthAdjust="spacingAndGlyphs" stroke="#000" stroke-width="0.3">63.58</text>
<path d="M1207.3,586.3 L1211.3,581.2 L1240.7,581.2 L1240.7,591.4 L1211.3,591.4 Z" fill="#fff" stroke="#000" stroke-width="1.1"/>
<text x="1212.3" y="589.8" font-size="10" fill="#000" textLength="26" lengthAdjust="spacingAndGlyphs" stroke="#000" stroke-width="0.3">13.93</text>
<path d="M1207.3,515.9 L1211.3,510.8 L1240.7,510.8 L1240.7,521 L1211.3,521 Z" fill="#fff" stroke="#4e564e" stroke-width="1.1"/>
<text x="1212.3" y="519.4" font-size="10" fill="#000" textLength="26" lengthAdjust="spacingAndGlyphs" stroke="#000" stroke-width="0.3">18.63</text>
<path d="M1211.3,510.8 L1207.3,515.9 L1211.3,521" fill="none" stroke="#1a9a1a" stroke-width="1.3"/>
<path d="M1207.3,524.3 L1211.3,519.2 L1240.7,519.2 L1240.7,529.4 L1211.3,529.4 Z" fill="#fff" stroke="#dc143c" stroke-width="1.1"/>
<text x="1212.3" y="527.8" font-size="10" fill="#000" textLength="26" lengthAdjust="spacingAndGlyphs" stroke="#000" stroke-width="0.3">18.04</text>
<path d="M1207.3,530.7 L1211.3,525.6 L1240.7,525.6 L1240.7,535.8 L1211.3,535.8 Z" fill="#fff" stroke="#000" stroke-width="1.1"/>
<text x="1212.3" y="534.2" font-size="10" fill="#000" textLength="26" lengthAdjust="spacingAndGlyphs" stroke="#000" stroke-width="0.3">17.61</text>
<path d="M1207.3,485.5 L1211.3,480.4 L1240.7,480.4 L1240.7,490.6 L1211.3,490.6 Z" fill="#fff" stroke="#000" stroke-width="1.1"/>
<text x="1212.3" y="489" font-size="10" fill="#000" textLength="26" lengthAdjust="spacingAndGlyphs" stroke="#000" stroke-width="0.3">21.28</text>
<path d="M1207.3,470.8 L1211.3,465.7 L1240.7,465.7 L1240.7,475.9 L1211.3,475.9 Z" fill="#fff" stroke="#000" stroke-width="1.1"/>
<text x="1212.3" y="474.3" font-size="10" fill="#000" font-weight="bold" textLength="26.7" lengthAdjust="spacingAndGlyphs">22.64</text>
<path d="M1207.3,748.3 L1211.3,743.2 L1240.7,743.2 L1240.7,753.4 L1211.3,753.4 Z" fill="#fff" stroke="#2d6d92" stroke-width="1.1"/>
<text x="1212.3" y="751.8" font-size="10" fill="#000" textLength="26" lengthAdjust="spacingAndGlyphs" stroke="#000" stroke-width="0.3">0.592</text>
<line x1="1211" y1="959" x2="1241" y2="959" stroke="#2d6d92" stroke-width="1.5"/>
<path d="M1207.3,953.8 L1211.3,948.7 L1240.7,948.7 L1240.7,958.9 L1211.3,958.9 Z" fill="#fff" stroke="#000" stroke-width="1.1"/>
<text x="1212.3" y="957.3" font-size="10" fill="#000" textLength="26" lengthAdjust="spacingAndGlyphs" stroke="#000" stroke-width="0.3">0.622</text>
<path d="M1207.3,971.8 L1211.3,966.7 L1240.7,966.7 L1240.7,976.9 L1211.3,976.9 Z" fill="#fff" stroke="#ee2222" stroke-width="1.1"/>
<text x="1212.3" y="975.3" font-size="10" fill="#000" textLength="26" lengthAdjust="spacingAndGlyphs" stroke="#000" stroke-width="0.3">0.031</text>
<path d="M1207.3,1052.6 L1211.3,1047.5 L1240.7,1047.5 L1240.7,1057.7 L1211.3,1057.7 Z" fill="#fff" stroke="#ee2222" stroke-width="1.1"/>
<text x="1212.3" y="1056.1" font-size="10" fill="#000" textLength="26" lengthAdjust="spacingAndGlyphs" stroke="#000" stroke-width="0.3">82.36</text>
<path d="M1207.3,1044.2 L1211.3,1039.1 L1240.7,1039.1 L1240.7,1049.3 L1211.3,1049.3 Z" fill="#fff" stroke="#000" stroke-width="1.1"/>
<text x="1212.3" y="1047.7" font-size="10" fill="#000" textLength="26" lengthAdjust="spacingAndGlyphs" stroke="#000" stroke-width="0.3">88.14</text>
<rect x="18" y="30" width="94" height="11" fill="#dadae8"/>
<path d="M19.5,38.5 L21.5,34 L23,35 L24.6,31.5 L26,35.5 L27.5,33 L27.5,38.5 Z" fill="#3c6e88" stroke="#000" stroke-width="0.9"/>
<text x="31.2" y="38.8" font-size="10" fill="#000" textLength="79.2" lengthAdjust="spacing" stroke="#000" stroke-width="0.3">RSI(14) 63.58</text>
<rect x="18" y="197" width="117" height="10.5" fill="#dadae8"/>
<path d="M20.5,199 v7 M20.5,201 h1.5 v3 h-1.5 M24.5,199 v7 M23,200.5 h3 v4 h-3 Z M27.5,200 v5" stroke="#000" stroke-width="1.2" fill="#000"/>
<text x="31.6" y="205.9" font-size="10" fill="#000" textLength="101.6" lengthAdjust="spacing" stroke="#000" stroke-width="0.3">$VIX (Daily) 22.64</text>
<rect x="18" y="208" width="151" height="10" fill="#dadae8"/>
<path d="M19.3,216.8 L21,212 L22.5,213.5 L24.5,208.5 L26,212 L28,210 L28,216.8 Z" fill="#3c6e88"/>
<text x="29.2" y="216.6" font-size="10" fill="#000" textLength="138" lengthAdjust="spacingAndGlyphs" stroke="#000" stroke-width="0.3">BB(20,2.0) 13.93 - 17.61 - 21.28</text>
<rect x="18" y="219" width="72" height="10" fill="#dadae8"/>
<line x1="19.2" y1="224" x2="28" y2="224" stroke="#dc143c" stroke-width="2"/>
<text x="29.2" y="227.8" font-size="10" fill="#dc143c" textLength="59.7" lengthAdjust="spacingAndGlyphs" stroke="#dc143c" stroke-width="0.3">MA(10) 18.04</text>
<rect x="18" y="230" width="72" height="10" fill="#dadae8"/>
<line x1="19.2" y1="235" x2="28" y2="235" stroke="#4e564e" stroke-width="2"/>
<text x="29.2" y="238.5" font-size="10" fill="#4e564e" textLength="59.2" lengthAdjust="spacingAndGlyphs" stroke="#4e564e" stroke-width="0.3">MA(50) 18.63</text>
<rect x="18" y="687" width="160" height="11" fill="#dadae8"/>
<path d="M19.5,696.5 v-4 M21.8,696.5 v-6 M24.1,696.5 v-7.5 M26.4,696.5 v-5" stroke="#2d6d92" stroke-width="1.6"/>
<text x="31.6" y="696.1" font-size="10" fill="#000" textLength="144.4" lengthAdjust="spacing" stroke="#000" stroke-width="0.3">MACD(12,26,9) Hist 0.592</text>
<rect x="18" y="854" width="215" height="11" fill="#dadae8"/>
<line x1="19.5" y1="859.6" x2="27.5" y2="859.6" stroke="#000" stroke-width="2"/>
<text x="31.4" y="862.8" font-size="10" textLength="200.2" lengthAdjust="spacing"><tspan fill="#000">MACD(12,26,9) 0.622</tspan><tspan fill="#ee2222">, 0.031</tspan><tspan fill="#3a94cc">, 0.592</tspan></text>
<rect x="18" y="1021" width="233" height="11" fill="#dadae8"/>
<line x1="19.5" y1="1026.5" x2="27.5" y2="1026.5" stroke="#000" stroke-width="2"/>
<text x="31.4" y="1030.2" font-size="10" textLength="217.6" lengthAdjust="spacing"><tspan fill="#000">Full STO %K(14,3) %D(3) 88.14,</tspan><tspan fill="#ee2222"> 82.36</tspan></text>
</svg></body></html>
